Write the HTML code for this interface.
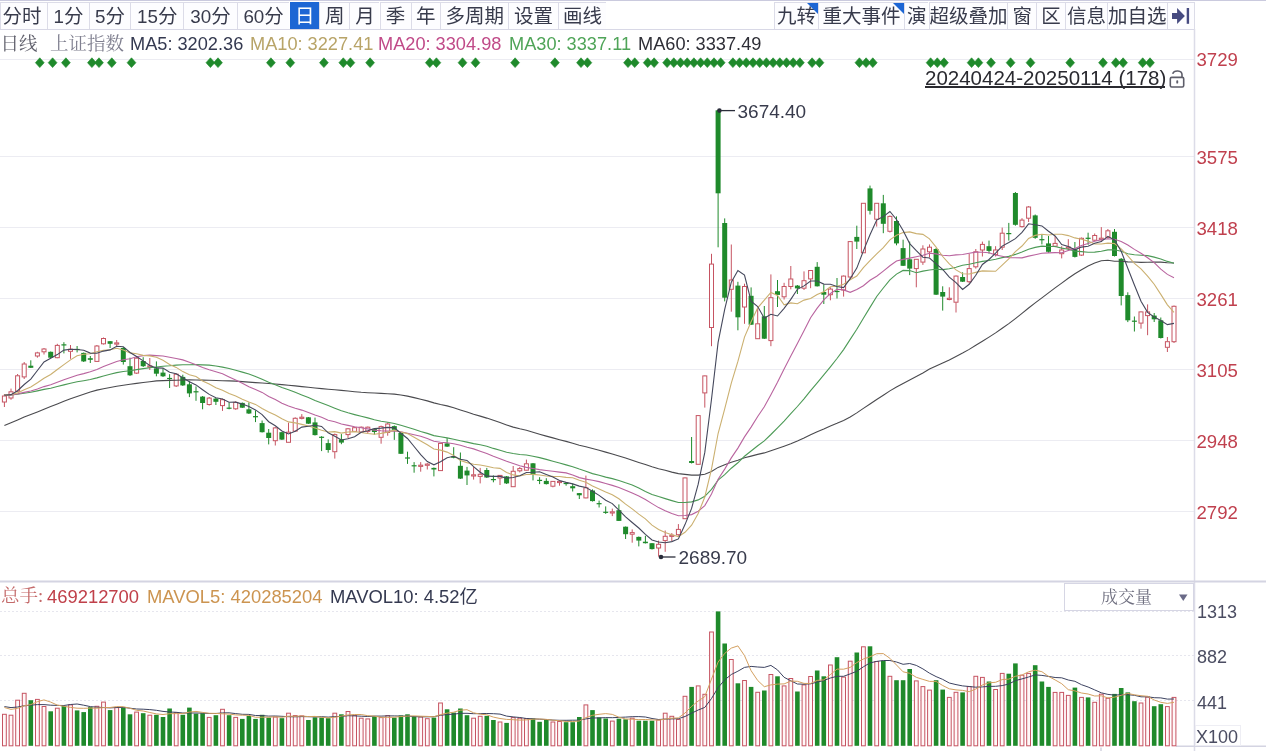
<!DOCTYPE html>
<html><head><meta charset="utf-8"><style>
*{margin:0;padding:0;box-sizing:border-box}
html,body{width:1266px;height:751px;overflow:hidden;background:#fff}
body{position:relative;filter:blur(0.35px);font-family:"Liberation Sans","Noto Sans CJK SC",sans-serif;color:#2f3345}
.topline{position:absolute;left:0;top:0;width:1266px;height:1.2px;background:#cacade}
.tbar{position:absolute;left:0;top:29px;width:1194px;height:1px;background:#d8d8e6}
.tab{position:absolute;top:1.5px;height:28.3px;border:1px solid #dcdce8;border-right:none;background:#fdfdff;font-size:19.5px;line-height:25.5px;padding-top:1.8px;text-align:center;white-space:nowrap;color:#383b4c;overflow:hidden}
.tab.sel{background:#1d66d4;color:#fff;border-color:#1d66d4}
.tri{position:absolute;right:0;top:0;width:0;height:0;border-top:11px solid #1d66d4;border-left:11px solid transparent}
.t{position:absolute;white-space:nowrap;line-height:1}
.serif{font-family:"Liberation Serif","Noto Serif CJK SC",serif}
svg.main{position:absolute;left:0;top:0}
.ax{position:absolute;left:1196.5px;font-size:18.6px;color:#c0404e;line-height:1}
.vax{position:absolute;left:1197px;font-size:18px;color:#4b4d62;line-height:1}
</style></head><body>
<div class="topline"></div>
<div class="tab" style="left:0px;width:47px;padding-right:4px;">分时</div>
<div class="tab" style="left:47px;width:42px;"><span style="font-size:18.8px">1</span>分</div>
<div class="tab" style="left:89px;width:41px;"><span style="font-size:18.8px">5</span>分</div>
<div class="tab" style="left:130px;width:53.400000000000006px;"><span style="font-size:18.8px">15</span>分</div>
<div class="tab" style="left:183.4px;width:53.29999999999998px;"><span style="font-size:18.8px">30</span>分</div>
<div class="tab" style="left:236.7px;width:52.80000000000001px;"><span style="font-size:18.8px">60</span>分</div>
<div class="tab sel" style="left:289.5px;width:29.600000000000023px;">日</div>
<div class="tab" style="left:319.1px;width:30.19999999999999px;">周</div>
<div class="tab" style="left:349.3px;width:30.19999999999999px;">月</div>
<div class="tab" style="left:379.5px;width:31.0px;">季</div>
<div class="tab" style="left:410.5px;width:29.600000000000023px;">年</div>
<div class="tab" style="left:440.1px;width:68.09999999999997px;">多周期</div>
<div class="tab" style="left:508.2px;width:49.400000000000034px;">设置</div>
<div class="tab" style="left:557.6px;width:48.799999999999955px;">画线</div>
<div class="tab" style="left:773.6px;width:44.69999999999993px;">九转<i class="tri"></i></div>
<div class="tab" style="left:818.3px;width:85.5px;">重大事件<i class="tri"></i></div>
<div class="tab" style="left:903.8px;width:24.700000000000045px;">演</div>
<div class="tab" style="left:928.5px;width:78.5px;">超级叠加</div>
<div class="tab" style="left:1007px;width:29.40000000000009px;">窗</div>
<div class="tab" style="left:1036.4px;width:28.399999999999864px;">区</div>
<div class="tab" style="left:1064.8px;width:42.200000000000045px;">信息</div>
<div class="tab" style="left:1107px;width:59.5px;">加自选</div>
<div class="tab" style="left:1166.5px;width:28.700000000000045px;border-right:1px solid #dcdce8;"><svg width="28" height="28" viewBox="0 0 28 28" style="position:absolute;left:-1px;top:-1px"><path d="M5,11 H10.1 V6 L17.9,14 L10.1,22 V17 H5Z" fill="#464a80"/><rect x="19.7" y="6" width="2.4" height="15.8" fill="#464a80"/></svg></div>
<div class="tbar"></div>
<svg class="main" width="1266" height="751" viewBox="0 0 1266 751">
<line x1="0" y1="59.5" x2="1194" y2="59.5" stroke="#ececf2" stroke-width="1"/>
<line x1="0" y1="156.5" x2="1194" y2="156.5" stroke="#ececf2" stroke-width="1"/>
<line x1="0" y1="227.5" x2="1194" y2="227.5" stroke="#ececf2" stroke-width="1"/>
<line x1="0" y1="298.5" x2="1194" y2="298.5" stroke="#ececf2" stroke-width="1"/>
<line x1="0" y1="369.5" x2="1194" y2="369.5" stroke="#ececf2" stroke-width="1"/>
<line x1="0" y1="440.5" x2="1194" y2="440.5" stroke="#ececf2" stroke-width="1"/>
<line x1="0" y1="511.5" x2="1194" y2="511.5" stroke="#ececf2" stroke-width="1"/>
<line x1="0" y1="611.5" x2="1194" y2="611.5" stroke="#e6e6ee" stroke-width="1" stroke-dasharray="2,2"/>
<line x1="0" y1="655.5" x2="1194" y2="655.5" stroke="#e6e6ee" stroke-width="1" stroke-dasharray="2,2"/>
<line x1="0" y1="700.5" x2="1194" y2="700.5" stroke="#e6e6ee" stroke-width="1" stroke-dasharray="2,2"/>
<line x1="1194.5" y1="29" x2="1194.5" y2="751" stroke="#dcdce8" stroke-width="1.5"/>
<line x1="0" y1="581.5" x2="1266" y2="581.5" stroke="#d4d4e2" stroke-width="2"/>
<line x1="1176" y1="746.3" x2="1266" y2="746.3" stroke="#d4d4e2" stroke-width="1.5"/>
<line x1="1101" y1="747.5" x2="1101" y2="751" stroke="#c8c8d8" stroke-width="1.2"/>
<line x1="4.4" y1="394.0" x2="4.4" y2="396.0" stroke="#c65462" stroke-width="1"/>
<line x1="4.4" y1="402.0" x2="4.4" y2="407.0" stroke="#c65462" stroke-width="1"/>
<rect x="2.4" y="396.0" width="4" height="6.0" fill="#fff" stroke="#c65462" stroke-width="1"/>
<line x1="11.0" y1="388.6" x2="11.0" y2="391.8" stroke="#c65462" stroke-width="1"/>
<line x1="11.0" y1="398.0" x2="11.0" y2="399.8" stroke="#c65462" stroke-width="1"/>
<rect x="9.0" y="391.8" width="4" height="6.2" fill="#fff" stroke="#c65462" stroke-width="1"/>
<line x1="17.6" y1="374.0" x2="17.6" y2="375.8" stroke="#c65462" stroke-width="1"/>
<line x1="17.6" y1="391.2" x2="17.6" y2="392.0" stroke="#c65462" stroke-width="1"/>
<rect x="15.6" y="375.8" width="4" height="15.4" fill="#fff" stroke="#c65462" stroke-width="1"/>
<line x1="24.2" y1="362.0" x2="24.2" y2="364.0" stroke="#c65462" stroke-width="1"/>
<line x1="24.2" y1="376.9" x2="24.2" y2="379.0" stroke="#c65462" stroke-width="1"/>
<rect x="22.2" y="364.0" width="4" height="12.9" fill="#fff" stroke="#c65462" stroke-width="1"/>
<line x1="30.8" y1="360.3" x2="30.8" y2="368.0" stroke="#1f8a2b" stroke-width="1"/>
<rect x="28.3" y="365.7" width="5" height="2.1" fill="#1f8a2b"/>
<line x1="37.4" y1="351.8" x2="37.4" y2="352.9" stroke="#c65462" stroke-width="1"/>
<line x1="37.4" y1="356.0" x2="37.4" y2="357.7" stroke="#c65462" stroke-width="1"/>
<rect x="35.4" y="352.9" width="4" height="3.1" fill="#fff" stroke="#c65462" stroke-width="1"/>
<line x1="44.0" y1="348.0" x2="44.0" y2="349.0" stroke="#c65462" stroke-width="1"/>
<line x1="44.0" y1="351.8" x2="44.0" y2="354.5" stroke="#c65462" stroke-width="1"/>
<rect x="42.0" y="349.0" width="4" height="2.8" fill="#fff" stroke="#c65462" stroke-width="1"/>
<line x1="50.7" y1="351.5" x2="50.7" y2="358.0" stroke="#1f8a2b" stroke-width="1"/>
<rect x="48.2" y="351.8" width="5" height="5.9" fill="#1f8a2b"/>
<line x1="57.3" y1="343.8" x2="57.3" y2="345.4" stroke="#c65462" stroke-width="1"/>
<line x1="57.3" y1="357.7" x2="57.3" y2="358.2" stroke="#c65462" stroke-width="1"/>
<rect x="55.3" y="345.4" width="4" height="12.3" fill="#fff" stroke="#c65462" stroke-width="1"/>
<line x1="63.9" y1="342.2" x2="63.9" y2="353.4" stroke="#1f8a2b" stroke-width="1"/>
<rect x="61.4" y="344.3" width="5" height="1.2" fill="#1f8a2b"/>
<line x1="70.5" y1="345.0" x2="70.5" y2="349.2" stroke="#c65462" stroke-width="1"/>
<line x1="70.5" y1="351.3" x2="70.5" y2="358.8" stroke="#c65462" stroke-width="1"/>
<rect x="68.5" y="349.2" width="4" height="2.1" fill="#fff" stroke="#c65462" stroke-width="1"/>
<line x1="77.1" y1="346.0" x2="77.1" y2="352.4" stroke="#1f8a2b" stroke-width="1"/>
<rect x="74.6" y="348.9" width="5" height="1.2" fill="#1f8a2b"/>
<line x1="83.7" y1="352.5" x2="83.7" y2="362.0" stroke="#1f8a2b" stroke-width="1"/>
<rect x="81.2" y="352.9" width="5" height="8.5" fill="#1f8a2b"/>
<line x1="90.3" y1="356.0" x2="90.3" y2="363.0" stroke="#1f8a2b" stroke-width="1"/>
<rect x="87.8" y="358.2" width="5" height="1.6" fill="#1f8a2b"/>
<line x1="96.9" y1="345.0" x2="96.9" y2="346.0" stroke="#c65462" stroke-width="1"/>
<line x1="96.9" y1="361.4" x2="96.9" y2="362.0" stroke="#c65462" stroke-width="1"/>
<rect x="94.9" y="346.0" width="4" height="15.4" fill="#fff" stroke="#c65462" stroke-width="1"/>
<line x1="103.5" y1="337.5" x2="103.5" y2="338.5" stroke="#c65462" stroke-width="1"/>
<line x1="103.5" y1="343.8" x2="103.5" y2="344.5" stroke="#c65462" stroke-width="1"/>
<rect x="101.5" y="338.5" width="4" height="5.3" fill="#fff" stroke="#c65462" stroke-width="1"/>
<line x1="110.1" y1="341.0" x2="110.1" y2="348.0" stroke="#1f8a2b" stroke-width="1"/>
<rect x="107.6" y="341.2" width="5" height="2.6" fill="#1f8a2b"/>
<line x1="116.7" y1="340.0" x2="116.7" y2="342.9" stroke="#c65462" stroke-width="1"/>
<line x1="116.7" y1="344.1" x2="116.7" y2="346.0" stroke="#c65462" stroke-width="1"/>
<rect x="114.7" y="342.9" width="4" height="1.2" fill="#fff" stroke="#c65462" stroke-width="1"/>
<line x1="123.3" y1="347.0" x2="123.3" y2="364.6" stroke="#1f8a2b" stroke-width="1"/>
<rect x="120.8" y="348.0" width="5" height="14.0" fill="#1f8a2b"/>
<line x1="130.0" y1="357.7" x2="130.0" y2="376.0" stroke="#1f8a2b" stroke-width="1"/>
<rect x="127.5" y="366.2" width="5" height="9.1" fill="#1f8a2b"/>
<line x1="136.6" y1="357.0" x2="136.6" y2="358.2" stroke="#c65462" stroke-width="1"/>
<line x1="136.6" y1="373.1" x2="136.6" y2="374.0" stroke="#c65462" stroke-width="1"/>
<rect x="134.6" y="358.2" width="4" height="14.9" fill="#fff" stroke="#c65462" stroke-width="1"/>
<line x1="143.2" y1="357.2" x2="143.2" y2="367.0" stroke="#1f8a2b" stroke-width="1"/>
<rect x="140.7" y="361.0" width="5" height="5.2" fill="#1f8a2b"/>
<line x1="149.8" y1="358.0" x2="149.8" y2="365.9" stroke="#c65462" stroke-width="1"/>
<line x1="149.8" y1="367.1" x2="149.8" y2="370.0" stroke="#c65462" stroke-width="1"/>
<rect x="147.8" y="365.9" width="4" height="1.2" fill="#fff" stroke="#c65462" stroke-width="1"/>
<line x1="156.4" y1="361.4" x2="156.4" y2="376.3" stroke="#1f8a2b" stroke-width="1"/>
<rect x="153.9" y="368.3" width="5" height="5.4" fill="#1f8a2b"/>
<line x1="163.0" y1="368.3" x2="163.0" y2="377.0" stroke="#1f8a2b" stroke-width="1"/>
<rect x="160.5" y="372.6" width="5" height="3.7" fill="#1f8a2b"/>
<line x1="169.6" y1="374.2" x2="169.6" y2="388.0" stroke="#1f8a2b" stroke-width="1"/>
<rect x="167.1" y="377.9" width="5" height="1.2" fill="#1f8a2b"/>
<line x1="176.2" y1="373.5" x2="176.2" y2="374.2" stroke="#c65462" stroke-width="1"/>
<line x1="176.2" y1="385.9" x2="176.2" y2="387.0" stroke="#c65462" stroke-width="1"/>
<rect x="174.2" y="374.2" width="4" height="11.7" fill="#fff" stroke="#c65462" stroke-width="1"/>
<line x1="182.8" y1="374.7" x2="182.8" y2="386.0" stroke="#1f8a2b" stroke-width="1"/>
<rect x="180.3" y="376.9" width="5" height="8.5" fill="#1f8a2b"/>
<line x1="189.4" y1="381.1" x2="189.4" y2="397.1" stroke="#1f8a2b" stroke-width="1"/>
<rect x="186.9" y="384.3" width="5" height="9.1" fill="#1f8a2b"/>
<line x1="196.0" y1="386.4" x2="196.0" y2="400.8" stroke="#1f8a2b" stroke-width="1"/>
<rect x="193.5" y="391.2" width="5" height="1.2" fill="#1f8a2b"/>
<line x1="202.6" y1="396.0" x2="202.6" y2="409.3" stroke="#1f8a2b" stroke-width="1"/>
<rect x="200.1" y="396.6" width="5" height="6.4" fill="#1f8a2b"/>
<line x1="209.2" y1="397.0" x2="209.2" y2="398.1" stroke="#c65462" stroke-width="1"/>
<line x1="209.2" y1="404.5" x2="209.2" y2="405.6" stroke="#c65462" stroke-width="1"/>
<rect x="207.2" y="398.1" width="4" height="6.4" fill="#fff" stroke="#c65462" stroke-width="1"/>
<line x1="215.9" y1="398.0" x2="215.9" y2="405.0" stroke="#1f8a2b" stroke-width="1"/>
<rect x="213.4" y="398.6" width="5" height="3.2" fill="#1f8a2b"/>
<line x1="222.5" y1="398.6" x2="222.5" y2="399.7" stroke="#c65462" stroke-width="1"/>
<line x1="222.5" y1="405.6" x2="222.5" y2="410.9" stroke="#c65462" stroke-width="1"/>
<rect x="220.5" y="399.7" width="4" height="5.9" fill="#fff" stroke="#c65462" stroke-width="1"/>
<line x1="229.1" y1="402.4" x2="229.1" y2="409.3" stroke="#1f8a2b" stroke-width="1"/>
<rect x="226.6" y="407.6" width="5" height="1.2" fill="#1f8a2b"/>
<line x1="235.7" y1="401.3" x2="235.7" y2="402.4" stroke="#c65462" stroke-width="1"/>
<line x1="235.7" y1="408.8" x2="235.7" y2="409.8" stroke="#c65462" stroke-width="1"/>
<rect x="233.7" y="402.4" width="4" height="6.4" fill="#fff" stroke="#c65462" stroke-width="1"/>
<line x1="242.3" y1="402.5" x2="242.3" y2="408.0" stroke="#1f8a2b" stroke-width="1"/>
<rect x="239.8" y="402.9" width="5" height="4.8" fill="#1f8a2b"/>
<line x1="248.9" y1="402.4" x2="248.9" y2="414.0" stroke="#1f8a2b" stroke-width="1"/>
<rect x="246.4" y="409.3" width="5" height="4.2" fill="#1f8a2b"/>
<line x1="255.5" y1="410.4" x2="255.5" y2="422.1" stroke="#1f8a2b" stroke-width="1"/>
<rect x="253.0" y="416.1" width="5" height="1.2" fill="#1f8a2b"/>
<line x1="262.1" y1="420.5" x2="262.1" y2="432.5" stroke="#1f8a2b" stroke-width="1"/>
<rect x="259.6" y="423.1" width="5" height="9.1" fill="#1f8a2b"/>
<line x1="268.7" y1="429.0" x2="268.7" y2="444.4" stroke="#1f8a2b" stroke-width="1"/>
<rect x="266.2" y="432.7" width="5" height="5.3" fill="#1f8a2b"/>
<line x1="275.3" y1="426.9" x2="275.3" y2="427.9" stroke="#c65462" stroke-width="1"/>
<line x1="275.3" y1="440.7" x2="275.3" y2="445.5" stroke="#c65462" stroke-width="1"/>
<rect x="273.3" y="427.9" width="4" height="12.8" fill="#fff" stroke="#c65462" stroke-width="1"/>
<line x1="281.9" y1="432.0" x2="281.9" y2="440.0" stroke="#1f8a2b" stroke-width="1"/>
<rect x="279.4" y="432.2" width="5" height="7.4" fill="#1f8a2b"/>
<line x1="288.5" y1="422.6" x2="288.5" y2="432.2" stroke="#c65462" stroke-width="1"/>
<line x1="288.5" y1="442.3" x2="288.5" y2="442.5" stroke="#c65462" stroke-width="1"/>
<rect x="286.5" y="432.2" width="4" height="10.1" fill="#fff" stroke="#c65462" stroke-width="1"/>
<line x1="295.2" y1="417.3" x2="295.2" y2="418.3" stroke="#c65462" stroke-width="1"/>
<line x1="295.2" y1="431.1" x2="295.2" y2="431.7" stroke="#c65462" stroke-width="1"/>
<rect x="293.2" y="418.3" width="4" height="12.8" fill="#fff" stroke="#c65462" stroke-width="1"/>
<line x1="301.8" y1="414.1" x2="301.8" y2="417.2" stroke="#c65462" stroke-width="1"/>
<line x1="301.8" y1="418.4" x2="301.8" y2="419.4" stroke="#c65462" stroke-width="1"/>
<rect x="299.8" y="417.2" width="4" height="1.2" fill="#fff" stroke="#c65462" stroke-width="1"/>
<line x1="308.4" y1="417.0" x2="308.4" y2="424.0" stroke="#1f8a2b" stroke-width="1"/>
<rect x="305.9" y="417.3" width="5" height="6.4" fill="#1f8a2b"/>
<line x1="315.0" y1="417.6" x2="315.0" y2="435.5" stroke="#1f8a2b" stroke-width="1"/>
<rect x="312.5" y="422.4" width="5" height="12.7" fill="#1f8a2b"/>
<line x1="321.6" y1="436.2" x2="321.6" y2="451.1" stroke="#1f8a2b" stroke-width="1"/>
<rect x="319.1" y="436.7" width="5" height="1.2" fill="#1f8a2b"/>
<line x1="328.2" y1="439.4" x2="328.2" y2="452.7" stroke="#1f8a2b" stroke-width="1"/>
<rect x="325.7" y="443.1" width="5" height="6.9" fill="#1f8a2b"/>
<line x1="334.8" y1="433.5" x2="334.8" y2="434.6" stroke="#c65462" stroke-width="1"/>
<line x1="334.8" y1="451.7" x2="334.8" y2="458.6" stroke="#c65462" stroke-width="1"/>
<rect x="332.8" y="434.6" width="4" height="17.1" fill="#fff" stroke="#c65462" stroke-width="1"/>
<line x1="341.4" y1="434.1" x2="341.4" y2="444.2" stroke="#1f8a2b" stroke-width="1"/>
<rect x="338.9" y="439.4" width="5" height="3.2" fill="#1f8a2b"/>
<line x1="348.0" y1="428.0" x2="348.0" y2="428.8" stroke="#c65462" stroke-width="1"/>
<line x1="348.0" y1="434.6" x2="348.0" y2="438.3" stroke="#c65462" stroke-width="1"/>
<rect x="346.0" y="428.8" width="4" height="5.8" fill="#fff" stroke="#c65462" stroke-width="1"/>
<line x1="354.6" y1="427.0" x2="354.6" y2="427.7" stroke="#c65462" stroke-width="1"/>
<line x1="354.6" y1="431.4" x2="354.6" y2="432.0" stroke="#c65462" stroke-width="1"/>
<rect x="352.6" y="427.7" width="4" height="3.7" fill="#fff" stroke="#c65462" stroke-width="1"/>
<line x1="361.2" y1="426.5" x2="361.2" y2="427.2" stroke="#c65462" stroke-width="1"/>
<line x1="361.2" y1="432.0" x2="361.2" y2="432.5" stroke="#c65462" stroke-width="1"/>
<rect x="359.2" y="427.2" width="4" height="4.8" fill="#fff" stroke="#c65462" stroke-width="1"/>
<line x1="367.8" y1="426.5" x2="367.8" y2="427.2" stroke="#c65462" stroke-width="1"/>
<line x1="367.8" y1="431.4" x2="367.8" y2="433.5" stroke="#c65462" stroke-width="1"/>
<rect x="365.8" y="427.2" width="4" height="4.2" fill="#fff" stroke="#c65462" stroke-width="1"/>
<line x1="374.4" y1="428.5" x2="374.4" y2="434.6" stroke="#1f8a2b" stroke-width="1"/>
<rect x="371.9" y="428.8" width="5" height="3.2" fill="#1f8a2b"/>
<line x1="381.1" y1="425.6" x2="381.1" y2="426.6" stroke="#c65462" stroke-width="1"/>
<line x1="381.1" y1="437.3" x2="381.1" y2="443.7" stroke="#c65462" stroke-width="1"/>
<rect x="379.1" y="426.6" width="4" height="10.7" fill="#fff" stroke="#c65462" stroke-width="1"/>
<line x1="387.7" y1="422.4" x2="387.7" y2="424.0" stroke="#c65462" stroke-width="1"/>
<line x1="387.7" y1="432.5" x2="387.7" y2="435.7" stroke="#c65462" stroke-width="1"/>
<rect x="385.7" y="424.0" width="4" height="8.5" fill="#fff" stroke="#c65462" stroke-width="1"/>
<line x1="394.3" y1="425.5" x2="394.3" y2="439.9" stroke="#1f8a2b" stroke-width="1"/>
<rect x="391.8" y="426.1" width="5" height="3.7" fill="#1f8a2b"/>
<line x1="400.9" y1="432.5" x2="400.9" y2="454.0" stroke="#1f8a2b" stroke-width="1"/>
<rect x="398.4" y="433.0" width="5" height="20.8" fill="#1f8a2b"/>
<line x1="407.5" y1="451.7" x2="407.5" y2="463.9" stroke="#1f8a2b" stroke-width="1"/>
<rect x="405.0" y="457.4" width="5" height="1.2" fill="#1f8a2b"/>
<line x1="414.1" y1="462.1" x2="414.1" y2="472.7" stroke="#1f8a2b" stroke-width="1"/>
<rect x="411.6" y="465.2" width="5" height="1.2" fill="#1f8a2b"/>
<line x1="420.7" y1="462.1" x2="420.7" y2="465.2" stroke="#c65462" stroke-width="1"/>
<line x1="420.7" y1="466.4" x2="420.7" y2="471.7" stroke="#c65462" stroke-width="1"/>
<rect x="418.7" y="465.2" width="4" height="1.2" fill="#fff" stroke="#c65462" stroke-width="1"/>
<line x1="427.3" y1="463.1" x2="427.3" y2="464.1" stroke="#c65462" stroke-width="1"/>
<line x1="427.3" y1="465.3" x2="427.3" y2="469.5" stroke="#c65462" stroke-width="1"/>
<rect x="425.3" y="464.1" width="4" height="1.2" fill="#fff" stroke="#c65462" stroke-width="1"/>
<line x1="433.9" y1="467.5" x2="433.9" y2="476.4" stroke="#1f8a2b" stroke-width="1"/>
<rect x="431.4" y="467.9" width="5" height="1.6" fill="#1f8a2b"/>
<line x1="440.5" y1="443.0" x2="440.5" y2="443.4" stroke="#c65462" stroke-width="1"/>
<line x1="440.5" y1="470.6" x2="440.5" y2="471.0" stroke="#c65462" stroke-width="1"/>
<rect x="438.5" y="443.4" width="4" height="27.2" fill="#fff" stroke="#c65462" stroke-width="1"/>
<line x1="447.1" y1="438.1" x2="447.1" y2="447.0" stroke="#1f8a2b" stroke-width="1"/>
<rect x="444.6" y="443.4" width="5" height="3.2" fill="#1f8a2b"/>
<line x1="453.7" y1="447.2" x2="453.7" y2="458.3" stroke="#1f8a2b" stroke-width="1"/>
<rect x="451.2" y="456.2" width="5" height="1.6" fill="#1f8a2b"/>
<line x1="460.4" y1="452.5" x2="460.4" y2="479.0" stroke="#1f8a2b" stroke-width="1"/>
<rect x="457.9" y="465.8" width="5" height="12.8" fill="#1f8a2b"/>
<line x1="467.0" y1="466.9" x2="467.0" y2="485.0" stroke="#1f8a2b" stroke-width="1"/>
<rect x="464.5" y="470.6" width="5" height="4.8" fill="#1f8a2b"/>
<line x1="473.6" y1="466.9" x2="473.6" y2="474.8" stroke="#c65462" stroke-width="1"/>
<line x1="473.6" y1="476.0" x2="473.6" y2="479.6" stroke="#c65462" stroke-width="1"/>
<rect x="471.6" y="474.8" width="4" height="1.2" fill="#fff" stroke="#c65462" stroke-width="1"/>
<line x1="480.2" y1="467.9" x2="480.2" y2="474.3" stroke="#c65462" stroke-width="1"/>
<line x1="480.2" y1="476.4" x2="480.2" y2="483.4" stroke="#c65462" stroke-width="1"/>
<rect x="478.2" y="474.3" width="4" height="2.1" fill="#fff" stroke="#c65462" stroke-width="1"/>
<line x1="486.8" y1="467.9" x2="486.8" y2="478.0" stroke="#1f8a2b" stroke-width="1"/>
<rect x="484.3" y="470.0" width="5" height="7.5" fill="#1f8a2b"/>
<line x1="493.4" y1="475.4" x2="493.4" y2="482.3" stroke="#1f8a2b" stroke-width="1"/>
<rect x="490.9" y="479.0" width="5" height="1.2" fill="#1f8a2b"/>
<line x1="500.0" y1="475.0" x2="500.0" y2="475.4" stroke="#c65462" stroke-width="1"/>
<line x1="500.0" y1="478.0" x2="500.0" y2="485.0" stroke="#c65462" stroke-width="1"/>
<rect x="498.0" y="475.4" width="4" height="2.6" fill="#fff" stroke="#c65462" stroke-width="1"/>
<line x1="506.6" y1="476.0" x2="506.6" y2="484.0" stroke="#1f8a2b" stroke-width="1"/>
<rect x="504.1" y="476.4" width="5" height="7.0" fill="#1f8a2b"/>
<line x1="513.2" y1="466.0" x2="513.2" y2="471.3" stroke="#c65462" stroke-width="1"/>
<line x1="513.2" y1="486.7" x2="513.2" y2="487.0" stroke="#c65462" stroke-width="1"/>
<rect x="511.2" y="471.3" width="4" height="15.4" fill="#fff" stroke="#c65462" stroke-width="1"/>
<line x1="519.8" y1="467.0" x2="519.8" y2="468.6" stroke="#c65462" stroke-width="1"/>
<line x1="519.8" y1="470.8" x2="519.8" y2="472.4" stroke="#c65462" stroke-width="1"/>
<rect x="517.8" y="468.6" width="4" height="2.2" fill="#fff" stroke="#c65462" stroke-width="1"/>
<line x1="526.4" y1="459.6" x2="526.4" y2="463.8" stroke="#c65462" stroke-width="1"/>
<line x1="526.4" y1="470.2" x2="526.4" y2="470.5" stroke="#c65462" stroke-width="1"/>
<rect x="524.4" y="463.8" width="4" height="6.4" fill="#fff" stroke="#c65462" stroke-width="1"/>
<line x1="533.0" y1="463.0" x2="533.0" y2="480.4" stroke="#1f8a2b" stroke-width="1"/>
<rect x="530.5" y="463.3" width="5" height="11.2" fill="#1f8a2b"/>
<line x1="539.6" y1="477.2" x2="539.6" y2="484.1" stroke="#1f8a2b" stroke-width="1"/>
<rect x="537.1" y="479.8" width="5" height="1.2" fill="#1f8a2b"/>
<line x1="546.3" y1="478.2" x2="546.3" y2="484.5" stroke="#1f8a2b" stroke-width="1"/>
<rect x="543.8" y="480.9" width="5" height="3.2" fill="#1f8a2b"/>
<line x1="552.9" y1="481.0" x2="552.9" y2="481.4" stroke="#c65462" stroke-width="1"/>
<line x1="552.9" y1="486.2" x2="552.9" y2="487.3" stroke="#c65462" stroke-width="1"/>
<rect x="550.9" y="481.4" width="4" height="4.8" fill="#fff" stroke="#c65462" stroke-width="1"/>
<line x1="559.5" y1="480.9" x2="559.5" y2="481.4" stroke="#c65462" stroke-width="1"/>
<line x1="559.5" y1="482.6" x2="559.5" y2="485.7" stroke="#c65462" stroke-width="1"/>
<rect x="557.5" y="481.4" width="4" height="1.2" fill="#fff" stroke="#c65462" stroke-width="1"/>
<line x1="566.1" y1="482.5" x2="566.1" y2="485.7" stroke="#1f8a2b" stroke-width="1"/>
<rect x="563.6" y="482.9" width="5" height="1.2" fill="#1f8a2b"/>
<line x1="572.7" y1="483.5" x2="572.7" y2="491.5" stroke="#1f8a2b" stroke-width="1"/>
<rect x="570.2" y="486.2" width="5" height="2.1" fill="#1f8a2b"/>
<line x1="579.3" y1="493.0" x2="579.3" y2="499.0" stroke="#1f8a2b" stroke-width="1"/>
<rect x="576.8" y="493.1" width="5" height="2.2" fill="#1f8a2b"/>
<line x1="585.9" y1="475.6" x2="585.9" y2="487.8" stroke="#c65462" stroke-width="1"/>
<line x1="585.9" y1="497.9" x2="585.9" y2="498.3" stroke="#c65462" stroke-width="1"/>
<rect x="583.9" y="487.8" width="4" height="10.1" fill="#fff" stroke="#c65462" stroke-width="1"/>
<line x1="592.5" y1="489.4" x2="592.5" y2="501.5" stroke="#1f8a2b" stroke-width="1"/>
<rect x="590.0" y="490.5" width="5" height="10.6" fill="#1f8a2b"/>
<line x1="599.1" y1="500.6" x2="599.1" y2="507.5" stroke="#1f8a2b" stroke-width="1"/>
<rect x="596.6" y="503.1" width="5" height="1.2" fill="#1f8a2b"/>
<line x1="605.7" y1="506.4" x2="605.7" y2="513.9" stroke="#1f8a2b" stroke-width="1"/>
<rect x="603.2" y="511.7" width="5" height="1.2" fill="#1f8a2b"/>
<line x1="612.3" y1="508.6" x2="612.3" y2="511.8" stroke="#c65462" stroke-width="1"/>
<line x1="612.3" y1="513.0" x2="612.3" y2="516.1" stroke="#c65462" stroke-width="1"/>
<rect x="610.3" y="511.8" width="4" height="1.2" fill="#fff" stroke="#c65462" stroke-width="1"/>
<line x1="618.9" y1="504.4" x2="618.9" y2="521.0" stroke="#1f8a2b" stroke-width="1"/>
<rect x="616.4" y="510.2" width="5" height="10.7" fill="#1f8a2b"/>
<line x1="625.6" y1="526.5" x2="625.6" y2="539.0" stroke="#1f8a2b" stroke-width="1"/>
<rect x="623.1" y="526.7" width="5" height="7.5" fill="#1f8a2b"/>
<line x1="632.2" y1="529.4" x2="632.2" y2="532.6" stroke="#c65462" stroke-width="1"/>
<line x1="632.2" y1="534.2" x2="632.2" y2="542.7" stroke="#c65462" stroke-width="1"/>
<rect x="630.2" y="532.6" width="4" height="1.6" fill="#fff" stroke="#c65462" stroke-width="1"/>
<line x1="638.8" y1="536.5" x2="638.8" y2="546.4" stroke="#1f8a2b" stroke-width="1"/>
<rect x="636.3" y="536.9" width="5" height="3.7" fill="#1f8a2b"/>
<line x1="645.4" y1="535.8" x2="645.4" y2="543.5" stroke="#1f8a2b" stroke-width="1"/>
<rect x="642.9" y="541.7" width="5" height="1.5" fill="#1f8a2b"/>
<line x1="652.0" y1="543.0" x2="652.0" y2="549.5" stroke="#1f8a2b" stroke-width="1"/>
<rect x="649.5" y="543.2" width="5" height="5.9" fill="#1f8a2b"/>
<line x1="658.6" y1="540.6" x2="658.6" y2="544.3" stroke="#c65462" stroke-width="1"/>
<line x1="658.6" y1="548.0" x2="658.6" y2="556.6" stroke="#c65462" stroke-width="1"/>
<rect x="656.6" y="544.3" width="4" height="3.7" fill="#fff" stroke="#c65462" stroke-width="1"/>
<line x1="665.2" y1="530.5" x2="665.2" y2="536.3" stroke="#c65462" stroke-width="1"/>
<line x1="665.2" y1="540.6" x2="665.2" y2="551.8" stroke="#c65462" stroke-width="1"/>
<rect x="663.2" y="536.3" width="4" height="4.3" fill="#fff" stroke="#c65462" stroke-width="1"/>
<line x1="671.8" y1="533.1" x2="671.8" y2="535.2" stroke="#c65462" stroke-width="1"/>
<line x1="671.8" y1="536.4" x2="671.8" y2="541.1" stroke="#c65462" stroke-width="1"/>
<rect x="669.8" y="535.2" width="4" height="1.2" fill="#fff" stroke="#c65462" stroke-width="1"/>
<line x1="678.4" y1="524.1" x2="678.4" y2="529.4" stroke="#c65462" stroke-width="1"/>
<line x1="678.4" y1="534.7" x2="678.4" y2="535.8" stroke="#c65462" stroke-width="1"/>
<rect x="676.4" y="529.4" width="4" height="5.3" fill="#fff" stroke="#c65462" stroke-width="1"/>
<line x1="685.0" y1="477.5" x2="685.0" y2="477.9" stroke="#c65462" stroke-width="1"/>
<line x1="685.0" y1="518.7" x2="685.0" y2="519.0" stroke="#c65462" stroke-width="1"/>
<rect x="683.0" y="477.9" width="4" height="40.8" fill="#fff" stroke="#c65462" stroke-width="1"/>
<line x1="691.6" y1="437.0" x2="691.6" y2="463.5" stroke="#1f8a2b" stroke-width="1"/>
<rect x="689.1" y="461.0" width="5" height="2.0" fill="#1f8a2b"/>
<line x1="698.2" y1="415.0" x2="698.2" y2="415.6" stroke="#c65462" stroke-width="1"/>
<line x1="698.2" y1="464.3" x2="698.2" y2="464.5" stroke="#c65462" stroke-width="1"/>
<rect x="696.2" y="415.6" width="4" height="48.7" fill="#fff" stroke="#c65462" stroke-width="1"/>
<line x1="704.8" y1="375.5" x2="704.8" y2="375.9" stroke="#c65462" stroke-width="1"/>
<line x1="704.8" y1="392.9" x2="704.8" y2="407.6" stroke="#c65462" stroke-width="1"/>
<rect x="702.8" y="375.9" width="4" height="17.0" fill="#fff" stroke="#c65462" stroke-width="1"/>
<line x1="711.5" y1="253.8" x2="711.5" y2="264.1" stroke="#c65462" stroke-width="1"/>
<line x1="711.5" y1="327.5" x2="711.5" y2="346.2" stroke="#c65462" stroke-width="1"/>
<rect x="709.5" y="264.1" width="4" height="63.4" fill="#fff" stroke="#c65462" stroke-width="1"/>
<line x1="718.1" y1="110.0" x2="718.1" y2="247.3" stroke="#1f8a2b" stroke-width="1"/>
<rect x="715.6" y="110.3" width="5" height="83.0" fill="#1f8a2b"/>
<line x1="724.7" y1="218.4" x2="724.7" y2="301.4" stroke="#1f8a2b" stroke-width="1"/>
<rect x="722.2" y="223.0" width="5" height="74.7" fill="#1f8a2b"/>
<line x1="731.3" y1="244.5" x2="731.3" y2="280.0" stroke="#c65462" stroke-width="1"/>
<line x1="731.3" y1="289.3" x2="731.3" y2="311.7" stroke="#c65462" stroke-width="1"/>
<rect x="729.3" y="280.0" width="4" height="9.3" fill="#fff" stroke="#c65462" stroke-width="1"/>
<line x1="737.9" y1="281.8" x2="737.9" y2="330.3" stroke="#1f8a2b" stroke-width="1"/>
<rect x="735.4" y="285.6" width="5" height="31.7" fill="#1f8a2b"/>
<line x1="744.5" y1="283.7" x2="744.5" y2="286.5" stroke="#c65462" stroke-width="1"/>
<line x1="744.5" y1="307.0" x2="744.5" y2="323.8" stroke="#c65462" stroke-width="1"/>
<rect x="742.5" y="286.5" width="4" height="20.5" fill="#fff" stroke="#c65462" stroke-width="1"/>
<line x1="751.1" y1="287.4" x2="751.1" y2="325.0" stroke="#1f8a2b" stroke-width="1"/>
<rect x="748.6" y="295.8" width="5" height="28.9" fill="#1f8a2b"/>
<line x1="757.7" y1="308.9" x2="757.7" y2="323.8" stroke="#c65462" stroke-width="1"/>
<line x1="757.7" y1="338.7" x2="757.7" y2="339.0" stroke="#c65462" stroke-width="1"/>
<rect x="755.7" y="323.8" width="4" height="14.9" fill="#fff" stroke="#c65462" stroke-width="1"/>
<line x1="764.3" y1="306.0" x2="764.3" y2="339.0" stroke="#1f8a2b" stroke-width="1"/>
<rect x="761.8" y="316.3" width="5" height="22.4" fill="#1f8a2b"/>
<line x1="770.9" y1="274.4" x2="770.9" y2="297.7" stroke="#c65462" stroke-width="1"/>
<line x1="770.9" y1="340.6" x2="770.9" y2="346.2" stroke="#c65462" stroke-width="1"/>
<rect x="768.9" y="297.7" width="4" height="42.9" fill="#fff" stroke="#c65462" stroke-width="1"/>
<line x1="777.5" y1="280.0" x2="777.5" y2="307.0" stroke="#1f8a2b" stroke-width="1"/>
<rect x="775.0" y="291.2" width="5" height="3.7" fill="#1f8a2b"/>
<line x1="784.1" y1="282.8" x2="784.1" y2="286.5" stroke="#c65462" stroke-width="1"/>
<line x1="784.1" y1="296.8" x2="784.1" y2="299.6" stroke="#c65462" stroke-width="1"/>
<rect x="782.1" y="286.5" width="4" height="10.3" fill="#fff" stroke="#c65462" stroke-width="1"/>
<line x1="790.8" y1="266.0" x2="790.8" y2="279.0" stroke="#c65462" stroke-width="1"/>
<line x1="790.8" y1="286.5" x2="790.8" y2="289.3" stroke="#c65462" stroke-width="1"/>
<rect x="788.8" y="279.0" width="4" height="7.5" fill="#fff" stroke="#c65462" stroke-width="1"/>
<line x1="797.4" y1="285.0" x2="797.4" y2="294.0" stroke="#1f8a2b" stroke-width="1"/>
<rect x="794.9" y="285.6" width="5" height="2.8" fill="#1f8a2b"/>
<line x1="804.0" y1="271.4" x2="804.0" y2="280.7" stroke="#c65462" stroke-width="1"/>
<line x1="804.0" y1="288.2" x2="804.0" y2="290.0" stroke="#c65462" stroke-width="1"/>
<rect x="802.0" y="280.7" width="4" height="7.5" fill="#fff" stroke="#c65462" stroke-width="1"/>
<line x1="810.6" y1="270.0" x2="810.6" y2="270.5" stroke="#c65462" stroke-width="1"/>
<line x1="810.6" y1="278.9" x2="810.6" y2="288.2" stroke="#c65462" stroke-width="1"/>
<rect x="808.6" y="270.5" width="4" height="8.4" fill="#fff" stroke="#c65462" stroke-width="1"/>
<line x1="817.2" y1="262.1" x2="817.2" y2="286.5" stroke="#1f8a2b" stroke-width="1"/>
<rect x="814.7" y="266.8" width="5" height="19.5" fill="#1f8a2b"/>
<line x1="823.8" y1="284.5" x2="823.8" y2="304.0" stroke="#1f8a2b" stroke-width="1"/>
<rect x="821.3" y="292.0" width="5" height="2.7" fill="#1f8a2b"/>
<line x1="830.4" y1="287.3" x2="830.4" y2="289.1" stroke="#c65462" stroke-width="1"/>
<line x1="830.4" y1="294.7" x2="830.4" y2="300.3" stroke="#c65462" stroke-width="1"/>
<rect x="828.4" y="289.1" width="4" height="5.6" fill="#fff" stroke="#c65462" stroke-width="1"/>
<line x1="837.0" y1="278.0" x2="837.0" y2="298.5" stroke="#1f8a2b" stroke-width="1"/>
<rect x="834.5" y="290.9" width="5" height="1.2" fill="#1f8a2b"/>
<line x1="843.6" y1="275.5" x2="843.6" y2="276.1" stroke="#c65462" stroke-width="1"/>
<line x1="843.6" y1="290.0" x2="843.6" y2="296.6" stroke="#c65462" stroke-width="1"/>
<rect x="841.6" y="276.1" width="4" height="13.9" fill="#fff" stroke="#c65462" stroke-width="1"/>
<line x1="850.2" y1="241.0" x2="850.2" y2="241.6" stroke="#c65462" stroke-width="1"/>
<line x1="850.2" y1="277.0" x2="850.2" y2="278.9" stroke="#c65462" stroke-width="1"/>
<rect x="848.2" y="241.6" width="4" height="35.4" fill="#fff" stroke="#c65462" stroke-width="1"/>
<line x1="856.8" y1="225.7" x2="856.8" y2="249.0" stroke="#1f8a2b" stroke-width="1"/>
<rect x="854.3" y="236.9" width="5" height="4.7" fill="#1f8a2b"/>
<line x1="863.4" y1="203.0" x2="863.4" y2="203.3" stroke="#c65462" stroke-width="1"/>
<line x1="863.4" y1="252.8" x2="863.4" y2="253.0" stroke="#c65462" stroke-width="1"/>
<rect x="861.4" y="203.3" width="4" height="49.5" fill="#fff" stroke="#c65462" stroke-width="1"/>
<line x1="870.0" y1="185.6" x2="870.0" y2="214.5" stroke="#1f8a2b" stroke-width="1"/>
<rect x="867.5" y="188.4" width="5" height="22.4" fill="#1f8a2b"/>
<line x1="876.7" y1="203.0" x2="876.7" y2="203.3" stroke="#c65462" stroke-width="1"/>
<line x1="876.7" y1="219.2" x2="876.7" y2="226.6" stroke="#c65462" stroke-width="1"/>
<rect x="874.7" y="203.3" width="4" height="15.9" fill="#fff" stroke="#c65462" stroke-width="1"/>
<line x1="883.3" y1="194.9" x2="883.3" y2="233.2" stroke="#1f8a2b" stroke-width="1"/>
<rect x="880.8" y="203.3" width="5" height="20.5" fill="#1f8a2b"/>
<line x1="889.9" y1="215.5" x2="889.9" y2="216.4" stroke="#c65462" stroke-width="1"/>
<line x1="889.9" y1="231.3" x2="889.9" y2="232.5" stroke="#c65462" stroke-width="1"/>
<rect x="887.9" y="216.4" width="4" height="14.9" fill="#fff" stroke="#c65462" stroke-width="1"/>
<line x1="896.5" y1="216.4" x2="896.5" y2="245.3" stroke="#1f8a2b" stroke-width="1"/>
<rect x="894.0" y="221.0" width="5" height="22.4" fill="#1f8a2b"/>
<line x1="903.1" y1="239.7" x2="903.1" y2="266.0" stroke="#1f8a2b" stroke-width="1"/>
<rect x="900.6" y="248.1" width="5" height="17.7" fill="#1f8a2b"/>
<line x1="909.7" y1="241.6" x2="909.7" y2="275.1" stroke="#1f8a2b" stroke-width="1"/>
<rect x="907.2" y="259.3" width="5" height="9.3" fill="#1f8a2b"/>
<line x1="916.3" y1="259.0" x2="916.3" y2="259.3" stroke="#c65462" stroke-width="1"/>
<line x1="916.3" y1="268.6" x2="916.3" y2="287.3" stroke="#c65462" stroke-width="1"/>
<rect x="914.3" y="259.3" width="4" height="9.3" fill="#fff" stroke="#c65462" stroke-width="1"/>
<line x1="922.9" y1="245.3" x2="922.9" y2="249.0" stroke="#c65462" stroke-width="1"/>
<line x1="922.9" y1="262.1" x2="922.9" y2="264.9" stroke="#c65462" stroke-width="1"/>
<rect x="920.9" y="249.0" width="4" height="13.1" fill="#fff" stroke="#c65462" stroke-width="1"/>
<line x1="929.5" y1="244.4" x2="929.5" y2="247.2" stroke="#c65462" stroke-width="1"/>
<line x1="929.5" y1="251.8" x2="929.5" y2="257.4" stroke="#c65462" stroke-width="1"/>
<rect x="927.5" y="247.2" width="4" height="4.6" fill="#fff" stroke="#c65462" stroke-width="1"/>
<line x1="936.1" y1="248.0" x2="936.1" y2="295.0" stroke="#1f8a2b" stroke-width="1"/>
<rect x="933.6" y="249.0" width="5" height="45.7" fill="#1f8a2b"/>
<line x1="942.7" y1="286.3" x2="942.7" y2="310.6" stroke="#1f8a2b" stroke-width="1"/>
<rect x="940.2" y="292.0" width="5" height="4.6" fill="#1f8a2b"/>
<line x1="949.3" y1="287.3" x2="949.3" y2="298.3" stroke="#c65462" stroke-width="1"/>
<line x1="949.3" y1="299.6" x2="949.3" y2="300.3" stroke="#c65462" stroke-width="1"/>
<rect x="947.3" y="298.3" width="4" height="1.2" fill="#fff" stroke="#c65462" stroke-width="1"/>
<line x1="956.0" y1="275.5" x2="956.0" y2="276.1" stroke="#c65462" stroke-width="1"/>
<line x1="956.0" y1="302.2" x2="956.0" y2="312.5" stroke="#c65462" stroke-width="1"/>
<rect x="954.0" y="276.1" width="4" height="26.1" fill="#fff" stroke="#c65462" stroke-width="1"/>
<line x1="962.6" y1="272.3" x2="962.6" y2="282.0" stroke="#1f8a2b" stroke-width="1"/>
<rect x="960.1" y="277.0" width="5" height="4.7" fill="#1f8a2b"/>
<line x1="969.2" y1="253.7" x2="969.2" y2="268.6" stroke="#c65462" stroke-width="1"/>
<line x1="969.2" y1="281.7" x2="969.2" y2="283.5" stroke="#c65462" stroke-width="1"/>
<rect x="967.2" y="268.6" width="4" height="13.1" fill="#fff" stroke="#c65462" stroke-width="1"/>
<line x1="975.8" y1="249.0" x2="975.8" y2="251.8" stroke="#c65462" stroke-width="1"/>
<line x1="975.8" y1="266.8" x2="975.8" y2="268.6" stroke="#c65462" stroke-width="1"/>
<rect x="973.8" y="251.8" width="4" height="15.0" fill="#fff" stroke="#c65462" stroke-width="1"/>
<line x1="982.4" y1="241.6" x2="982.4" y2="244.4" stroke="#c65462" stroke-width="1"/>
<line x1="982.4" y1="250.0" x2="982.4" y2="256.5" stroke="#c65462" stroke-width="1"/>
<rect x="980.4" y="244.4" width="4" height="5.6" fill="#fff" stroke="#c65462" stroke-width="1"/>
<line x1="989.0" y1="240.6" x2="989.0" y2="253.7" stroke="#1f8a2b" stroke-width="1"/>
<rect x="986.5" y="246.2" width="5" height="4.7" fill="#1f8a2b"/>
<line x1="995.6" y1="246.2" x2="995.6" y2="250.0" stroke="#c65462" stroke-width="1"/>
<line x1="995.6" y1="254.6" x2="995.6" y2="256.5" stroke="#c65462" stroke-width="1"/>
<rect x="993.6" y="250.0" width="4" height="4.6" fill="#fff" stroke="#c65462" stroke-width="1"/>
<line x1="1002.2" y1="227.6" x2="1002.2" y2="233.2" stroke="#c65462" stroke-width="1"/>
<line x1="1002.2" y1="247.2" x2="1002.2" y2="250.0" stroke="#c65462" stroke-width="1"/>
<rect x="1000.2" y="233.2" width="4" height="14.0" fill="#fff" stroke="#c65462" stroke-width="1"/>
<line x1="1008.8" y1="222.9" x2="1008.8" y2="240.6" stroke="#1f8a2b" stroke-width="1"/>
<rect x="1006.3" y="233.0" width="5" height="1.2" fill="#1f8a2b"/>
<line x1="1015.4" y1="192.0" x2="1015.4" y2="225.7" stroke="#1f8a2b" stroke-width="1"/>
<rect x="1012.9" y="193.0" width="5" height="31.8" fill="#1f8a2b"/>
<line x1="1022.0" y1="218.2" x2="1022.0" y2="220.1" stroke="#c65462" stroke-width="1"/>
<line x1="1022.0" y1="226.6" x2="1022.0" y2="227.6" stroke="#c65462" stroke-width="1"/>
<rect x="1020.0" y="220.1" width="4" height="6.5" fill="#fff" stroke="#c65462" stroke-width="1"/>
<line x1="1028.6" y1="206.1" x2="1028.6" y2="207.0" stroke="#c65462" stroke-width="1"/>
<line x1="1028.6" y1="218.2" x2="1028.6" y2="222.0" stroke="#c65462" stroke-width="1"/>
<rect x="1026.6" y="207.0" width="4" height="11.2" fill="#fff" stroke="#c65462" stroke-width="1"/>
<line x1="1035.2" y1="214.5" x2="1035.2" y2="238.8" stroke="#1f8a2b" stroke-width="1"/>
<rect x="1032.7" y="215.4" width="5" height="22.4" fill="#1f8a2b"/>
<line x1="1041.9" y1="235.0" x2="1041.9" y2="244.4" stroke="#1f8a2b" stroke-width="1"/>
<rect x="1039.4" y="239.1" width="5" height="1.2" fill="#1f8a2b"/>
<line x1="1048.5" y1="236.0" x2="1048.5" y2="252.8" stroke="#1f8a2b" stroke-width="1"/>
<rect x="1046.0" y="243.4" width="5" height="8.4" fill="#1f8a2b"/>
<line x1="1055.1" y1="236.0" x2="1055.1" y2="243.4" stroke="#c65462" stroke-width="1"/>
<line x1="1055.1" y1="246.2" x2="1055.1" y2="247.2" stroke="#c65462" stroke-width="1"/>
<rect x="1053.1" y="243.4" width="4" height="2.8" fill="#fff" stroke="#c65462" stroke-width="1"/>
<line x1="1061.7" y1="246.2" x2="1061.7" y2="250.0" stroke="#c65462" stroke-width="1"/>
<line x1="1061.7" y1="253.7" x2="1061.7" y2="258.4" stroke="#c65462" stroke-width="1"/>
<rect x="1059.7" y="250.0" width="4" height="3.7" fill="#fff" stroke="#c65462" stroke-width="1"/>
<line x1="1068.3" y1="239.2" x2="1068.3" y2="247.0" stroke="#c65462" stroke-width="1"/>
<line x1="1068.3" y1="248.2" x2="1068.3" y2="250.4" stroke="#c65462" stroke-width="1"/>
<rect x="1066.3" y="247.0" width="4" height="1.2" fill="#fff" stroke="#c65462" stroke-width="1"/>
<line x1="1074.9" y1="242.0" x2="1074.9" y2="257.5" stroke="#1f8a2b" stroke-width="1"/>
<rect x="1072.4" y="249.5" width="5" height="7.4" fill="#1f8a2b"/>
<line x1="1081.5" y1="237.5" x2="1081.5" y2="238.3" stroke="#c65462" stroke-width="1"/>
<line x1="1081.5" y1="255.1" x2="1081.5" y2="256.0" stroke="#c65462" stroke-width="1"/>
<rect x="1079.5" y="238.3" width="4" height="16.8" fill="#fff" stroke="#c65462" stroke-width="1"/>
<line x1="1088.1" y1="232.7" x2="1088.1" y2="244.8" stroke="#1f8a2b" stroke-width="1"/>
<rect x="1085.6" y="237.7" width="5" height="1.2" fill="#1f8a2b"/>
<line x1="1094.7" y1="233.5" x2="1094.7" y2="235.5" stroke="#c65462" stroke-width="1"/>
<line x1="1094.7" y1="240.2" x2="1094.7" y2="241.0" stroke="#c65462" stroke-width="1"/>
<rect x="1092.7" y="235.5" width="4" height="4.7" fill="#fff" stroke="#c65462" stroke-width="1"/>
<line x1="1101.3" y1="227.1" x2="1101.3" y2="238.2" stroke="#c65462" stroke-width="1"/>
<line x1="1101.3" y1="239.3" x2="1101.3" y2="242.0" stroke="#c65462" stroke-width="1"/>
<rect x="1099.3" y="238.2" width="4" height="1.2" fill="#fff" stroke="#c65462" stroke-width="1"/>
<line x1="1107.9" y1="229.0" x2="1107.9" y2="230.8" stroke="#c65462" stroke-width="1"/>
<line x1="1107.9" y1="237.4" x2="1107.9" y2="238.3" stroke="#c65462" stroke-width="1"/>
<rect x="1105.9" y="230.8" width="4" height="6.6" fill="#fff" stroke="#c65462" stroke-width="1"/>
<line x1="1114.5" y1="229.0" x2="1114.5" y2="256.5" stroke="#1f8a2b" stroke-width="1"/>
<rect x="1112.0" y="231.8" width="5" height="24.2" fill="#1f8a2b"/>
<line x1="1121.2" y1="258.0" x2="1121.2" y2="305.4" stroke="#1f8a2b" stroke-width="1"/>
<rect x="1118.7" y="258.8" width="5" height="37.2" fill="#1f8a2b"/>
<line x1="1127.8" y1="292.3" x2="1127.8" y2="322.1" stroke="#1f8a2b" stroke-width="1"/>
<rect x="1125.3" y="295.1" width="5" height="25.2" fill="#1f8a2b"/>
<line x1="1134.4" y1="316.5" x2="1134.4" y2="331.5" stroke="#1f8a2b" stroke-width="1"/>
<rect x="1131.9" y="320.6" width="5" height="1.2" fill="#1f8a2b"/>
<line x1="1141.0" y1="311.5" x2="1141.0" y2="311.9" stroke="#c65462" stroke-width="1"/>
<line x1="1141.0" y1="323.1" x2="1141.0" y2="328.7" stroke="#c65462" stroke-width="1"/>
<rect x="1139.0" y="311.9" width="4" height="11.2" fill="#fff" stroke="#c65462" stroke-width="1"/>
<line x1="1147.6" y1="304.4" x2="1147.6" y2="311.9" stroke="#c65462" stroke-width="1"/>
<line x1="1147.6" y1="315.6" x2="1147.6" y2="335.2" stroke="#c65462" stroke-width="1"/>
<rect x="1145.6" y="311.9" width="4" height="3.7" fill="#fff" stroke="#c65462" stroke-width="1"/>
<line x1="1154.2" y1="313.0" x2="1154.2" y2="322.0" stroke="#1f8a2b" stroke-width="1"/>
<rect x="1151.7" y="315.6" width="5" height="3.7" fill="#1f8a2b"/>
<line x1="1160.8" y1="317.5" x2="1160.8" y2="338.5" stroke="#1f8a2b" stroke-width="1"/>
<rect x="1158.3" y="320.3" width="5" height="17.7" fill="#1f8a2b"/>
<line x1="1167.4" y1="337.0" x2="1167.4" y2="341.7" stroke="#c65462" stroke-width="1"/>
<line x1="1167.4" y1="347.3" x2="1167.4" y2="352.0" stroke="#c65462" stroke-width="1"/>
<rect x="1165.4" y="341.7" width="4" height="5.6" fill="#fff" stroke="#c65462" stroke-width="1"/>
<line x1="1174.0" y1="305.5" x2="1174.0" y2="306.3" stroke="#c65462" stroke-width="1"/>
<line x1="1174.0" y1="341.7" x2="1174.0" y2="343.0" stroke="#c65462" stroke-width="1"/>
<rect x="1172.0" y="306.3" width="4" height="35.4" fill="#fff" stroke="#c65462" stroke-width="1"/>
<polyline points="4.4,425.6 11.0,422.8 17.6,419.9 24.2,417.1 30.8,414.5 37.4,411.9 44.0,409.2 50.7,406.6 57.3,403.9 63.9,401.3 70.5,398.7 77.1,396.4 83.7,394.2 90.3,392.0 96.9,390.1 103.5,388.8 110.1,387.5 116.7,386.2 123.3,385.2 130.0,384.3 136.6,383.4 143.2,382.5 149.8,381.7 156.4,380.9 163.0,380.6 169.6,380.4 176.2,380.2 182.8,380.0 189.4,379.8 196.0,380.0 202.6,380.1 209.2,380.3 215.9,380.5 222.5,380.7 229.1,380.9 235.7,381.1 242.3,381.6 248.9,382.1 255.5,382.6 262.1,383.0 268.7,383.5 275.3,384.0 281.9,384.6 288.5,385.3 295.2,385.9 301.8,386.6 308.4,387.3 315.0,388.0 321.6,388.6 328.2,389.2 334.8,389.8 341.4,390.4 348.0,391.0 354.6,391.7 361.2,392.3 367.8,392.7 374.4,393.0 381.1,393.4 387.7,393.7 394.3,394.1 400.9,395.0 407.5,396.1 414.1,397.6 420.7,399.3 427.3,400.9 433.9,402.9 440.5,404.5 447.1,405.9 453.7,407.8 460.4,410.0 467.0,412.1 473.6,414.2 480.2,416.1 486.8,418.1 493.4,420.3 500.0,422.6 506.6,424.9 513.2,427.1 519.8,428.8 526.4,430.3 533.0,432.2 539.6,434.2 546.3,436.1 552.9,437.9 559.5,439.7 566.1,441.4 572.7,443.3 579.3,445.2 585.9,446.7 592.5,448.5 599.1,450.2 605.7,452.1 612.3,454.0 618.9,456.0 625.6,458.1 632.2,460.3 638.8,462.5 645.4,464.6 652.0,466.8 658.6,468.7 665.2,470.3 671.8,472.1 678.4,473.6 685.0,474.4 691.6,475.1 698.2,475.1 704.8,474.3 711.5,471.5 718.1,467.4 724.7,464.8 731.3,462.3 737.9,460.2 744.5,457.8 751.1,456.1 757.7,454.4 764.3,452.9 770.9,450.7 777.5,448.5 784.1,446.2 790.8,443.7 797.4,440.9 804.0,437.9 810.6,434.7 817.2,431.7 823.8,428.9 830.4,425.9 837.0,423.3 843.6,420.5 850.2,416.9 856.8,412.9 863.4,408.4 870.0,404.0 876.7,399.5 883.3,395.3 889.9,390.9 896.5,387.0 903.1,383.4 909.7,380.0 916.3,376.5 922.9,372.9 929.5,369.1 936.1,366.0 942.7,362.9 949.3,359.9 956.0,356.4 962.6,353.1 969.2,349.4 975.8,345.3 982.4,341.3 989.0,337.1 995.6,332.9 1002.2,328.2 1008.8,323.6 1015.4,318.6 1022.0,313.4 1028.6,308.0 1035.2,302.9 1041.9,297.9 1048.5,292.9 1055.1,287.9 1061.7,283.1 1068.3,278.3 1074.9,273.8 1081.5,269.8 1088.1,266.1 1094.7,263.1 1101.3,260.8 1107.9,260.2 1114.5,261.3 1121.2,261.2 1127.8,261.9 1134.4,262.0 1141.0,262.4 1147.6,262.2 1154.2,262.1 1160.8,262.1 1167.4,262.8 1174.0,263.0" fill="none" stroke="#4a4a4e" stroke-width="1.1"/>
<polyline points="4.4,395.0 11.0,394.9 17.6,394.3 24.2,393.3 30.8,392.3 37.4,390.9 44.0,389.4 50.7,388.2 57.3,386.5 63.9,384.9 70.5,383.3 77.1,381.8 83.7,380.7 90.3,379.5 96.9,377.9 103.5,376.0 110.1,374.3 116.7,372.6 123.3,371.5 130.0,370.8 136.6,369.6 143.2,368.6 149.8,367.7 156.4,367.0 163.0,366.3 169.6,365.8 176.2,365.1 182.8,364.8 189.4,364.7 196.0,364.6 202.6,364.9 209.2,365.1 215.9,366.0 222.5,367.1 229.1,368.5 235.7,370.2 242.3,372.1 248.9,374.0 255.5,376.4 262.1,379.3 268.7,382.2 275.3,384.8 281.9,387.4 288.5,389.8 295.2,392.3 301.8,394.9 308.4,397.5 315.0,400.6 321.6,403.1 328.2,405.6 334.8,408.2 341.4,410.7 348.0,412.8 354.6,414.6 361.2,416.3 367.8,417.9 374.4,419.8 381.1,421.2 387.7,422.2 394.3,423.5 400.9,425.2 407.5,427.2 414.1,429.3 420.7,431.5 427.3,433.4 433.9,435.6 440.5,436.8 447.1,437.9 453.7,439.3 460.4,440.8 467.0,442.1 473.6,443.6 480.2,444.8 486.8,446.3 493.4,448.4 500.0,450.3 506.6,452.3 513.2,453.5 519.8,454.5 526.4,455.0 533.0,456.3 539.6,457.6 546.3,459.4 552.9,461.2 559.5,463.0 566.1,464.9 572.7,466.8 579.3,469.1 585.9,471.2 592.5,473.6 599.1,475.3 605.7,477.1 612.3,478.6 618.9,480.5 625.6,482.8 632.2,484.9 638.8,488.1 645.4,491.4 652.0,494.4 658.6,496.6 665.2,498.6 671.8,500.6 678.4,502.5 685.0,502.5 691.6,501.9 698.2,499.9 704.8,496.3 711.5,489.4 718.1,480.2 724.7,474.7 731.3,468.2 737.9,462.8 744.5,456.2 751.1,451.0 757.7,445.7 764.3,440.9 770.9,434.5 777.5,427.8 784.1,421.1 790.8,413.7 797.4,406.5 804.0,398.8 810.6,390.7 817.2,382.9 823.8,374.9 830.4,366.8 837.0,358.5 843.6,349.6 850.2,339.4 856.8,329.3 863.4,318.2 870.0,307.4 876.7,296.5 883.3,288.0 889.9,279.8 896.5,274.1 903.1,270.4 909.7,270.6 916.3,272.8 922.9,271.1 929.5,270.0 936.1,269.3 942.7,269.6 949.3,268.7 956.0,267.2 962.6,265.3 969.2,264.3 975.8,262.8 982.4,261.4 989.0,260.5 995.6,259.2 1002.2,257.6 1008.8,256.4 1015.4,254.4 1022.0,251.9 1028.6,249.2 1035.2,247.4 1041.9,246.1 1048.5,246.5 1055.1,246.5 1061.7,248.1 1068.3,249.3 1074.9,251.1 1081.5,251.6 1088.1,252.3 1094.7,252.1 1101.3,251.2 1107.9,249.9 1114.5,249.8 1121.2,251.3 1127.8,253.8 1134.4,254.7 1141.0,255.2 1147.6,255.6 1154.2,257.1 1160.8,259.0 1167.4,261.4 1174.0,263.2" fill="none" stroke="#4c9a56" stroke-width="1.1"/>
<polyline points="4.4,395.1 11.0,394.9 17.6,393.9 24.2,392.4 30.8,391.0 37.4,388.9 44.0,386.6 50.7,384.8 57.3,382.3 63.9,379.8 70.5,377.5 77.1,375.2 83.7,373.6 90.3,371.8 96.9,369.4 103.5,366.5 110.1,364.0 116.7,361.4 123.3,359.7 130.0,358.7 136.6,356.8 143.2,355.6 149.8,355.1 156.4,355.6 163.0,356.0 169.6,357.3 176.2,358.5 182.8,359.9 189.4,362.3 196.0,364.7 202.6,367.4 209.2,369.8 215.9,371.8 222.5,373.8 229.1,376.9 235.7,380.1 242.3,383.3 248.9,386.8 255.5,389.6 262.1,392.4 268.7,396.4 275.3,399.5 281.9,403.2 288.5,406.1 295.2,408.2 301.8,410.1 308.4,412.6 315.0,415.1 321.6,417.3 328.2,420.2 334.8,421.8 341.4,424.0 348.0,425.4 354.6,426.8 361.2,427.7 367.8,428.9 374.4,430.1 381.1,430.8 387.7,431.1 394.3,431.0 400.9,431.8 407.5,433.3 414.1,434.7 420.7,436.3 427.3,438.6 433.9,441.2 440.5,442.2 447.1,442.8 453.7,443.8 460.4,445.2 467.0,447.3 473.6,448.9 480.2,451.2 486.8,453.6 493.4,456.3 500.0,458.7 506.6,461.3 513.2,463.5 519.8,465.7 526.4,467.4 533.0,468.5 539.6,469.6 546.3,470.5 552.9,471.3 559.5,472.1 566.1,472.9 572.7,475.1 579.3,477.6 585.9,479.1 592.5,480.2 599.1,481.6 605.7,483.5 612.3,485.4 618.9,487.6 625.6,490.3 632.2,493.1 638.8,496.0 645.4,499.6 652.0,503.6 658.6,507.6 665.2,510.7 671.8,513.4 678.4,515.7 685.0,515.5 691.6,514.6 698.2,511.2 704.8,505.6 711.5,494.0 718.1,479.3 724.7,469.1 731.3,457.9 737.9,448.1 744.5,436.9 751.1,427.1 757.7,416.5 764.3,406.8 770.9,394.7 777.5,382.3 784.1,369.1 790.8,355.9 797.4,343.5 804.0,330.8 810.6,317.8 817.2,308.2 823.8,299.8 830.4,293.5 837.0,289.3 843.6,289.9 850.2,292.3 856.8,289.5 863.4,285.7 870.0,280.3 876.7,276.2 883.3,271.1 889.9,265.8 896.5,261.0 903.1,259.4 909.7,258.1 916.3,256.7 922.9,255.2 929.5,253.2 936.1,253.9 942.7,255.2 949.3,255.8 956.0,254.9 962.6,254.5 969.2,253.3 975.8,252.1 982.4,252.2 989.0,252.7 995.6,255.0 1002.2,256.2 1008.8,257.7 1015.4,257.8 1022.0,257.9 1028.6,256.1 1035.2,254.7 1041.9,253.3 1048.5,252.9 1055.1,252.6 1061.7,252.8 1068.3,250.4 1074.9,248.4 1081.5,245.4 1088.1,243.5 1094.7,241.2 1101.3,239.7 1107.9,238.7 1114.5,239.2 1121.2,241.5 1127.8,245.0 1134.4,249.4 1141.0,253.3 1147.6,257.7 1154.2,262.6 1160.8,269.2 1167.4,274.4 1174.0,277.7" fill="none" stroke="#b9649f" stroke-width="1.1"/>
<polyline points="4.4,395.1 11.0,394.8 17.6,392.9 24.2,389.8 30.8,387.0 37.4,382.8 44.0,378.2 50.7,374.5 57.3,369.5 63.9,364.6 70.5,359.9 77.1,355.7 83.7,354.3 90.3,353.8 96.9,351.7 103.5,350.2 110.1,349.7 116.7,348.2 123.3,349.9 130.0,352.9 136.6,353.8 143.2,355.4 149.8,355.9 156.4,357.3 163.0,360.3 169.6,364.4 176.2,367.4 182.8,371.6 189.4,374.8 196.0,376.5 202.6,380.9 209.2,384.1 215.9,387.7 222.5,390.3 229.1,393.6 235.7,395.9 242.3,399.2 248.9,402.1 255.5,404.4 262.1,408.4 268.7,411.9 275.3,414.9 281.9,418.7 288.5,421.9 295.2,422.9 301.8,424.4 308.4,426.0 315.0,428.1 321.6,430.2 328.2,432.0 334.8,431.6 341.4,433.1 348.0,432.0 354.6,431.6 361.2,432.5 367.8,433.5 374.4,434.3 381.1,433.4 387.7,432.1 394.3,430.1 400.9,432.0 407.5,433.6 414.1,437.3 420.7,441.1 427.3,444.8 433.9,449.0 440.5,450.1 447.1,452.1 453.7,455.5 460.4,460.4 467.0,462.6 473.6,464.2 480.2,465.0 486.8,466.2 493.4,467.8 500.0,468.4 506.6,472.4 513.2,474.9 519.8,476.0 526.4,474.5 533.0,474.4 539.6,475.0 546.3,476.0 552.9,476.4 559.5,476.5 566.1,477.4 572.7,477.8 579.3,480.2 585.9,482.2 592.5,485.9 599.1,488.9 605.7,492.1 612.3,494.8 618.9,498.8 625.6,504.1 632.2,508.9 638.8,514.1 645.4,518.9 652.0,525.1 658.6,529.4 665.2,532.6 671.8,534.8 678.4,536.6 685.0,532.3 691.6,525.2 698.2,513.5 704.8,497.0 711.5,469.1 718.1,433.5 724.7,408.8 731.3,383.2 737.9,361.4 744.5,337.1 751.1,321.8 757.7,307.9 764.3,300.2 770.9,292.4 777.5,295.5 784.1,304.8 790.8,302.9 797.4,303.8 804.0,300.1 810.6,298.5 817.2,294.6 823.8,291.7 830.4,286.8 837.0,286.2 843.6,284.3 850.2,279.8 856.8,276.1 863.4,267.6 870.0,260.6 876.7,253.9 883.3,247.6 889.9,239.8 896.5,235.2 903.1,232.6 909.7,231.9 916.3,233.6 922.9,234.4 929.5,238.8 936.1,247.2 942.7,256.5 949.3,263.9 956.0,269.9 962.6,273.7 969.2,274.0 975.8,272.4 982.4,270.9 989.0,271.1 995.6,271.3 1002.2,265.2 1008.8,258.9 1015.4,251.6 1022.0,246.0 1028.6,238.5 1035.2,235.4 1041.9,234.2 1048.5,235.0 1055.1,234.2 1061.7,234.2 1068.3,235.6 1074.9,237.9 1081.5,239.2 1088.1,241.1 1094.7,244.0 1101.3,244.0 1107.9,243.1 1114.5,243.5 1121.2,248.8 1127.8,255.8 1134.4,263.3 1141.0,268.8 1147.6,276.1 1154.2,284.2 1160.8,294.4 1167.4,304.8 1174.0,312.3" fill="none" stroke="#cbb070" stroke-width="1.1"/>
<polyline points="4.4,395.2 11.0,394.6 17.6,390.7 24.2,384.5 30.8,379.1 37.4,370.5 44.0,361.9 50.7,358.3 57.3,354.6 63.9,350.1 70.5,349.3 77.1,349.5 83.7,350.2 90.3,353.1 96.9,353.2 103.5,351.1 110.1,349.9 116.7,346.2 123.3,346.7 130.0,352.5 136.6,356.5 143.2,360.9 149.8,365.5 156.4,367.9 163.0,368.1 169.6,372.2 176.2,373.8 182.8,377.7 189.4,381.7 196.0,384.9 202.6,389.7 209.2,394.4 215.9,397.7 222.5,399.0 229.1,402.3 235.7,402.1 242.3,404.1 248.9,406.4 255.5,409.9 262.1,414.6 268.7,421.7 275.3,425.8 281.9,431.0 288.5,434.0 295.2,431.2 301.8,427.1 308.4,426.2 315.0,425.3 321.6,426.4 328.2,432.8 334.8,436.2 341.4,440.0 348.0,438.8 354.6,436.7 361.2,432.2 367.8,430.7 374.4,428.6 381.1,428.1 387.7,427.4 394.3,427.9 400.9,433.2 407.5,438.5 414.1,446.5 420.7,454.7 427.3,461.6 433.9,464.8 440.5,461.7 447.1,457.8 453.7,456.3 460.4,459.2 467.0,460.4 473.6,466.7 480.2,472.2 486.8,476.1 493.4,476.4 500.0,476.4 506.6,478.1 513.2,477.5 519.8,475.8 526.4,472.5 533.0,472.3 539.6,471.8 546.3,474.4 552.9,476.9 559.5,480.5 566.1,482.4 572.7,483.9 579.3,486.1 585.9,487.4 592.5,491.3 599.1,495.4 605.7,500.3 612.3,503.6 618.9,510.2 625.6,516.8 632.2,522.5 638.8,528.0 645.4,534.3 652.0,539.9 658.6,542.0 665.2,542.7 671.8,541.6 678.4,538.9 685.0,524.6 691.6,508.4 698.2,484.2 704.8,452.4 711.5,399.3 718.1,342.4 724.7,309.3 731.3,282.2 737.9,270.5 744.5,275.0 751.1,301.2 757.7,306.5 764.3,318.2 770.9,314.3 777.5,316.0 784.1,308.3 790.8,299.4 797.4,289.3 804.0,285.9 810.6,281.0 817.2,281.0 823.8,284.1 830.4,284.3 837.0,286.5 843.6,287.6 850.2,278.7 856.8,268.1 863.4,250.9 870.0,234.7 876.7,220.1 883.3,216.6 889.9,211.5 896.5,219.5 903.1,230.5 909.7,243.6 916.3,250.7 922.9,257.2 929.5,258.0 936.1,263.8 942.7,269.4 949.3,277.2 956.0,282.6 962.6,289.5 969.2,284.3 975.8,275.3 982.4,264.5 989.0,259.5 995.6,253.1 1002.2,246.1 1008.8,242.5 1015.4,238.6 1022.0,232.4 1028.6,223.8 1035.2,224.8 1041.9,225.9 1048.5,231.3 1055.1,236.0 1061.7,244.6 1068.3,246.5 1074.9,249.8 1081.5,247.1 1088.1,246.2 1094.7,243.3 1101.3,241.6 1107.9,236.3 1114.5,239.9 1121.2,251.3 1127.8,268.3 1134.4,285.0 1141.0,301.2 1147.6,312.4 1154.2,317.0 1160.8,320.6 1167.4,324.6 1174.0,323.4" fill="none" stroke="#45485c" stroke-width="1.1"/>
<circle cx="719.4" cy="110.6" r="2.3" fill="#2a2d3a"/><line x1="719.4" y1="110.6" x2="735" y2="110.6" stroke="#2a2d3a" stroke-width="1.3"/>
<circle cx="661" cy="557" r="2.3" fill="#2a2d3a"/><line x1="661" y1="557" x2="675.5" y2="557" stroke="#2a2d3a" stroke-width="1.3"/>
<path d="M39.8,57.8 L44.2,62.7 L39.8,67.6 L35.4,62.7Z" fill="#1f8a2b" stroke="#1f8a2b" stroke-width="0.6" stroke-linejoin="round"/>
<path d="M52.6,57.8 L57.0,62.7 L52.6,67.6 L48.2,62.7Z" fill="#1f8a2b" stroke="#1f8a2b" stroke-width="0.6" stroke-linejoin="round"/>
<path d="M65.9,57.8 L70.3,62.7 L65.9,67.6 L61.5,62.7Z" fill="#1f8a2b" stroke="#1f8a2b" stroke-width="0.6" stroke-linejoin="round"/>
<path d="M91.9,57.8 L96.3,62.7 L91.9,67.6 L87.5,62.7Z" fill="#1f8a2b" stroke="#1f8a2b" stroke-width="0.6" stroke-linejoin="round"/>
<path d="M99.0,57.8 L103.4,62.7 L99.0,67.6 L94.6,62.7Z" fill="#1f8a2b" stroke="#1f8a2b" stroke-width="0.6" stroke-linejoin="round"/>
<path d="M111.8,57.8 L116.2,62.7 L111.8,67.6 L107.4,62.7Z" fill="#1f8a2b" stroke="#1f8a2b" stroke-width="0.6" stroke-linejoin="round"/>
<path d="M131.5,57.8 L135.9,62.7 L131.5,67.6 L127.1,62.7Z" fill="#1f8a2b" stroke="#1f8a2b" stroke-width="0.6" stroke-linejoin="round"/>
<path d="M210.4,57.8 L214.8,62.7 L210.4,67.6 L206.0,62.7Z" fill="#1f8a2b" stroke="#1f8a2b" stroke-width="0.6" stroke-linejoin="round"/>
<path d="M218.0,57.8 L222.4,62.7 L218.0,67.6 L213.6,62.7Z" fill="#1f8a2b" stroke="#1f8a2b" stroke-width="0.6" stroke-linejoin="round"/>
<path d="M270.9,57.8 L275.3,62.7 L270.9,67.6 L266.5,62.7Z" fill="#1f8a2b" stroke="#1f8a2b" stroke-width="0.6" stroke-linejoin="round"/>
<path d="M290.3,57.8 L294.7,62.7 L290.3,67.6 L285.9,62.7Z" fill="#1f8a2b" stroke="#1f8a2b" stroke-width="0.6" stroke-linejoin="round"/>
<path d="M323.9,57.8 L328.3,62.7 L323.9,67.6 L319.5,62.7Z" fill="#1f8a2b" stroke="#1f8a2b" stroke-width="0.6" stroke-linejoin="round"/>
<path d="M343.3,57.8 L347.7,62.7 L343.3,67.6 L338.9,62.7Z" fill="#1f8a2b" stroke="#1f8a2b" stroke-width="0.6" stroke-linejoin="round"/>
<path d="M350.4,57.8 L354.8,62.7 L350.4,67.6 L346.0,62.7Z" fill="#1f8a2b" stroke="#1f8a2b" stroke-width="0.6" stroke-linejoin="round"/>
<path d="M370.1,57.8 L374.5,62.7 L370.1,67.6 L365.7,62.7Z" fill="#1f8a2b" stroke="#1f8a2b" stroke-width="0.6" stroke-linejoin="round"/>
<path d="M429.8,57.8 L434.2,62.7 L429.8,67.6 L425.4,62.7Z" fill="#1f8a2b" stroke="#1f8a2b" stroke-width="0.6" stroke-linejoin="round"/>
<path d="M436.4,57.8 L440.8,62.7 L436.4,67.6 L432.0,62.7Z" fill="#1f8a2b" stroke="#1f8a2b" stroke-width="0.6" stroke-linejoin="round"/>
<path d="M462.5,57.8 L466.9,62.7 L462.5,67.6 L458.1,62.7Z" fill="#1f8a2b" stroke="#1f8a2b" stroke-width="0.6" stroke-linejoin="round"/>
<path d="M475.5,57.8 L479.9,62.7 L475.5,67.6 L471.1,62.7Z" fill="#1f8a2b" stroke="#1f8a2b" stroke-width="0.6" stroke-linejoin="round"/>
<path d="M515.1,57.8 L519.5,62.7 L515.1,67.6 L510.7,62.7Z" fill="#1f8a2b" stroke="#1f8a2b" stroke-width="0.6" stroke-linejoin="round"/>
<path d="M554.9,57.8 L559.3,62.7 L554.9,67.6 L550.5,62.7Z" fill="#1f8a2b" stroke="#1f8a2b" stroke-width="0.6" stroke-linejoin="round"/>
<path d="M581.0,57.8 L585.4,62.7 L581.0,67.6 L576.6,62.7Z" fill="#1f8a2b" stroke="#1f8a2b" stroke-width="0.6" stroke-linejoin="round"/>
<path d="M587.4,57.8 L591.8,62.7 L587.4,67.6 L583.0,62.7Z" fill="#1f8a2b" stroke="#1f8a2b" stroke-width="0.6" stroke-linejoin="round"/>
<path d="M628.0,57.8 L632.4,62.7 L628.0,67.6 L623.6,62.7Z" fill="#1f8a2b" stroke="#1f8a2b" stroke-width="0.6" stroke-linejoin="round"/>
<path d="M634.7,57.8 L639.1,62.7 L634.7,67.6 L630.3,62.7Z" fill="#1f8a2b" stroke="#1f8a2b" stroke-width="0.6" stroke-linejoin="round"/>
<path d="M647.7,57.8 L652.1,62.7 L647.7,67.6 L643.3,62.7Z" fill="#1f8a2b" stroke="#1f8a2b" stroke-width="0.6" stroke-linejoin="round"/>
<path d="M654.1,57.8 L658.5,62.7 L654.1,67.6 L649.7,62.7Z" fill="#1f8a2b" stroke="#1f8a2b" stroke-width="0.6" stroke-linejoin="round"/>
<path d="M667.1,57.8 L671.5,62.7 L667.1,67.6 L662.7,62.7Z" fill="#1f8a2b" stroke="#1f8a2b" stroke-width="0.6" stroke-linejoin="round"/>
<path d="M673.8,57.8 L678.2,62.7 L673.8,67.6 L669.4,62.7Z" fill="#1f8a2b" stroke="#1f8a2b" stroke-width="0.6" stroke-linejoin="round"/>
<path d="M680.5,57.8 L684.9,62.7 L680.5,67.6 L676.1,62.7Z" fill="#1f8a2b" stroke="#1f8a2b" stroke-width="0.6" stroke-linejoin="round"/>
<path d="M687.2,57.8 L691.6,62.7 L687.2,67.6 L682.8,62.7Z" fill="#1f8a2b" stroke="#1f8a2b" stroke-width="0.6" stroke-linejoin="round"/>
<path d="M693.9,57.8 L698.3,62.7 L693.9,67.6 L689.5,62.7Z" fill="#1f8a2b" stroke="#1f8a2b" stroke-width="0.6" stroke-linejoin="round"/>
<path d="M700.6,57.8 L705.0,62.7 L700.6,67.6 L696.2,62.7Z" fill="#1f8a2b" stroke="#1f8a2b" stroke-width="0.6" stroke-linejoin="round"/>
<path d="M707.3,57.8 L711.7,62.7 L707.3,67.6 L702.9,62.7Z" fill="#1f8a2b" stroke="#1f8a2b" stroke-width="0.6" stroke-linejoin="round"/>
<path d="M714.0,57.8 L718.4,62.7 L714.0,67.6 L709.6,62.7Z" fill="#1f8a2b" stroke="#1f8a2b" stroke-width="0.6" stroke-linejoin="round"/>
<path d="M720.7,57.8 L725.1,62.7 L720.7,67.6 L716.3,62.7Z" fill="#1f8a2b" stroke="#1f8a2b" stroke-width="0.6" stroke-linejoin="round"/>
<path d="M732.9,57.8 L737.3,62.7 L732.9,67.6 L728.5,62.7Z" fill="#1f8a2b" stroke="#1f8a2b" stroke-width="0.6" stroke-linejoin="round"/>
<path d="M739.6,57.8 L744.0,62.7 L739.6,67.6 L735.2,62.7Z" fill="#1f8a2b" stroke="#1f8a2b" stroke-width="0.6" stroke-linejoin="round"/>
<path d="M746.3,57.8 L750.7,62.7 L746.3,67.6 L741.9,62.7Z" fill="#1f8a2b" stroke="#1f8a2b" stroke-width="0.6" stroke-linejoin="round"/>
<path d="M753.0,57.8 L757.4,62.7 L753.0,67.6 L748.6,62.7Z" fill="#1f8a2b" stroke="#1f8a2b" stroke-width="0.6" stroke-linejoin="round"/>
<path d="M759.7,57.8 L764.1,62.7 L759.7,67.6 L755.3,62.7Z" fill="#1f8a2b" stroke="#1f8a2b" stroke-width="0.6" stroke-linejoin="round"/>
<path d="M766.4,57.8 L770.8,62.7 L766.4,67.6 L762.0,62.7Z" fill="#1f8a2b" stroke="#1f8a2b" stroke-width="0.6" stroke-linejoin="round"/>
<path d="M773.1,57.8 L777.5,62.7 L773.1,67.6 L768.7,62.7Z" fill="#1f8a2b" stroke="#1f8a2b" stroke-width="0.6" stroke-linejoin="round"/>
<path d="M779.8,57.8 L784.2,62.7 L779.8,67.6 L775.4,62.7Z" fill="#1f8a2b" stroke="#1f8a2b" stroke-width="0.6" stroke-linejoin="round"/>
<path d="M786.5,57.8 L790.9,62.7 L786.5,67.6 L782.1,62.7Z" fill="#1f8a2b" stroke="#1f8a2b" stroke-width="0.6" stroke-linejoin="round"/>
<path d="M793.2,57.8 L797.6,62.7 L793.2,67.6 L788.8,62.7Z" fill="#1f8a2b" stroke="#1f8a2b" stroke-width="0.6" stroke-linejoin="round"/>
<path d="M799.9,57.8 L804.3,62.7 L799.9,67.6 L795.5,62.7Z" fill="#1f8a2b" stroke="#1f8a2b" stroke-width="0.6" stroke-linejoin="round"/>
<path d="M812.1,57.8 L816.5,62.7 L812.1,67.6 L807.7,62.7Z" fill="#1f8a2b" stroke="#1f8a2b" stroke-width="0.6" stroke-linejoin="round"/>
<path d="M819.5,57.8 L823.9,62.7 L819.5,67.6 L815.1,62.7Z" fill="#1f8a2b" stroke="#1f8a2b" stroke-width="0.6" stroke-linejoin="round"/>
<path d="M859.4,57.8 L863.8,62.7 L859.4,67.6 L855.0,62.7Z" fill="#1f8a2b" stroke="#1f8a2b" stroke-width="0.6" stroke-linejoin="round"/>
<path d="M866.1,57.8 L870.5,62.7 L866.1,67.6 L861.7,62.7Z" fill="#1f8a2b" stroke="#1f8a2b" stroke-width="0.6" stroke-linejoin="round"/>
<path d="M872.8,57.8 L877.2,62.7 L872.8,67.6 L868.4,62.7Z" fill="#1f8a2b" stroke="#1f8a2b" stroke-width="0.6" stroke-linejoin="round"/>
<path d="M930.6,57.8 L935.0,62.7 L930.6,67.6 L926.2,62.7Z" fill="#1f8a2b" stroke="#1f8a2b" stroke-width="0.6" stroke-linejoin="round"/>
<path d="M937.3,57.8 L941.7,62.7 L937.3,67.6 L932.9,62.7Z" fill="#1f8a2b" stroke="#1f8a2b" stroke-width="0.6" stroke-linejoin="round"/>
<path d="M944.0,57.8 L948.4,62.7 L944.0,67.6 L939.6,62.7Z" fill="#1f8a2b" stroke="#1f8a2b" stroke-width="0.6" stroke-linejoin="round"/>
<path d="M971.6,57.8 L976.0,62.7 L971.6,67.6 L967.2,62.7Z" fill="#1f8a2b" stroke="#1f8a2b" stroke-width="0.6" stroke-linejoin="round"/>
<path d="M978.4,57.8 L982.8,62.7 L978.4,67.6 L974.0,62.7Z" fill="#1f8a2b" stroke="#1f8a2b" stroke-width="0.6" stroke-linejoin="round"/>
<path d="M991.0,57.8 L995.4,62.7 L991.0,67.6 L986.6,62.7Z" fill="#1f8a2b" stroke="#1f8a2b" stroke-width="0.6" stroke-linejoin="round"/>
<path d="M1010.6,57.8 L1015.0,62.7 L1010.6,67.6 L1006.2,62.7Z" fill="#1f8a2b" stroke="#1f8a2b" stroke-width="0.6" stroke-linejoin="round"/>
<path d="M1030.5,57.8 L1034.9,62.7 L1030.5,67.6 L1026.1,62.7Z" fill="#1f8a2b" stroke="#1f8a2b" stroke-width="0.6" stroke-linejoin="round"/>
<path d="M1070.2,57.8 L1074.6,62.7 L1070.2,67.6 L1065.8,62.7Z" fill="#1f8a2b" stroke="#1f8a2b" stroke-width="0.6" stroke-linejoin="round"/>
<path d="M1103.0,57.8 L1107.4,62.7 L1103.0,67.6 L1098.6,62.7Z" fill="#1f8a2b" stroke="#1f8a2b" stroke-width="0.6" stroke-linejoin="round"/>
<path d="M1115.8,57.8 L1120.2,62.7 L1115.8,67.6 L1111.4,62.7Z" fill="#1f8a2b" stroke="#1f8a2b" stroke-width="0.6" stroke-linejoin="round"/>
<path d="M1123.1,57.8 L1127.5,62.7 L1123.1,67.6 L1118.7,62.7Z" fill="#1f8a2b" stroke="#1f8a2b" stroke-width="0.6" stroke-linejoin="round"/>
<path d="M1142.7,57.8 L1147.1,62.7 L1142.7,67.6 L1138.3,62.7Z" fill="#1f8a2b" stroke="#1f8a2b" stroke-width="0.6" stroke-linejoin="round"/>
<path d="M1150.0,57.8 L1154.4,62.7 L1150.0,67.6 L1145.6,62.7Z" fill="#1f8a2b" stroke="#1f8a2b" stroke-width="0.6" stroke-linejoin="round"/>
<rect x="2.5" y="714.3" width="3.8" height="31.5" fill="#fff8f8" stroke="#c65462" stroke-width="1"/>
<rect x="9.1" y="715.2" width="3.8" height="30.6" fill="#fff8f8" stroke="#c65462" stroke-width="1"/>
<rect x="15.7" y="700.2" width="3.8" height="45.6" fill="#fff8f8" stroke="#c65462" stroke-width="1"/>
<rect x="22.3" y="693.3" width="3.8" height="52.5" fill="#fff8f8" stroke="#c65462" stroke-width="1"/>
<rect x="28.5" y="700.2" width="4.6" height="45.6" fill="#1f8a2b"/>
<rect x="35.5" y="699.4" width="3.8" height="46.4" fill="#fff8f8" stroke="#c65462" stroke-width="1"/>
<rect x="42.1" y="706.5" width="3.8" height="39.3" fill="#fff8f8" stroke="#c65462" stroke-width="1"/>
<rect x="48.4" y="711.3" width="4.6" height="34.5" fill="#1f8a2b"/>
<rect x="55.4" y="708.2" width="3.8" height="37.6" fill="#fff8f8" stroke="#c65462" stroke-width="1"/>
<rect x="61.6" y="706.0" width="4.6" height="39.8" fill="#1f8a2b"/>
<rect x="68.6" y="704.9" width="3.8" height="40.9" fill="#fff8f8" stroke="#c65462" stroke-width="1"/>
<rect x="74.8" y="710.4" width="4.6" height="35.4" fill="#1f8a2b"/>
<rect x="81.4" y="712.1" width="4.6" height="33.7" fill="#1f8a2b"/>
<rect x="88.0" y="707.1" width="4.6" height="38.7" fill="#1f8a2b"/>
<rect x="95.0" y="706.3" width="3.8" height="39.5" fill="#fff8f8" stroke="#c65462" stroke-width="1"/>
<rect x="101.6" y="702.1" width="3.8" height="43.7" fill="#fff8f8" stroke="#c65462" stroke-width="1"/>
<rect x="107.8" y="710.1" width="4.6" height="35.7" fill="#1f8a2b"/>
<rect x="114.8" y="707.6" width="3.8" height="38.2" fill="#fff8f8" stroke="#c65462" stroke-width="1"/>
<rect x="121.0" y="707.6" width="4.6" height="38.2" fill="#1f8a2b"/>
<rect x="127.7" y="714.3" width="4.6" height="31.5" fill="#1f8a2b"/>
<rect x="134.7" y="712.1" width="3.8" height="33.7" fill="#fff8f8" stroke="#c65462" stroke-width="1"/>
<rect x="140.9" y="713.2" width="4.6" height="32.6" fill="#1f8a2b"/>
<rect x="147.9" y="715.2" width="3.8" height="30.6" fill="#fff8f8" stroke="#c65462" stroke-width="1"/>
<rect x="154.1" y="714.8" width="4.6" height="31.0" fill="#1f8a2b"/>
<rect x="160.7" y="717.0" width="4.6" height="28.8" fill="#1f8a2b"/>
<rect x="167.3" y="708.5" width="4.6" height="37.3" fill="#1f8a2b"/>
<rect x="174.3" y="712.6" width="3.8" height="33.2" fill="#fff8f8" stroke="#c65462" stroke-width="1"/>
<rect x="180.5" y="714.8" width="4.6" height="31.0" fill="#1f8a2b"/>
<rect x="187.1" y="707.6" width="4.6" height="38.2" fill="#1f8a2b"/>
<rect x="193.7" y="713.7" width="4.6" height="32.1" fill="#1f8a2b"/>
<rect x="200.3" y="713.2" width="4.6" height="32.6" fill="#1f8a2b"/>
<rect x="207.3" y="717.4" width="3.8" height="28.4" fill="#fff8f8" stroke="#c65462" stroke-width="1"/>
<rect x="213.6" y="715.2" width="4.6" height="30.6" fill="#1f8a2b"/>
<rect x="220.6" y="709.3" width="3.8" height="36.5" fill="#fff8f8" stroke="#c65462" stroke-width="1"/>
<rect x="226.8" y="715.2" width="4.6" height="30.6" fill="#1f8a2b"/>
<rect x="233.8" y="717.4" width="3.8" height="28.4" fill="#fff8f8" stroke="#c65462" stroke-width="1"/>
<rect x="240.0" y="718.9" width="4.6" height="26.9" fill="#1f8a2b"/>
<rect x="246.6" y="715.9" width="4.6" height="29.9" fill="#1f8a2b"/>
<rect x="253.2" y="718.9" width="4.6" height="26.9" fill="#1f8a2b"/>
<rect x="259.8" y="714.8" width="4.6" height="31.0" fill="#1f8a2b"/>
<rect x="266.4" y="717.6" width="4.6" height="28.2" fill="#1f8a2b"/>
<rect x="273.4" y="717.0" width="3.8" height="28.8" fill="#fff8f8" stroke="#c65462" stroke-width="1"/>
<rect x="279.6" y="718.2" width="4.6" height="27.6" fill="#1f8a2b"/>
<rect x="286.6" y="713.2" width="3.8" height="32.6" fill="#fff8f8" stroke="#c65462" stroke-width="1"/>
<rect x="293.3" y="715.6" width="3.8" height="30.2" fill="#fff8f8" stroke="#c65462" stroke-width="1"/>
<rect x="299.9" y="715.9" width="3.8" height="29.9" fill="#fff8f8" stroke="#c65462" stroke-width="1"/>
<rect x="306.1" y="720.0" width="4.6" height="25.8" fill="#1f8a2b"/>
<rect x="312.7" y="717.4" width="4.6" height="28.4" fill="#1f8a2b"/>
<rect x="319.3" y="717.6" width="4.6" height="28.2" fill="#1f8a2b"/>
<rect x="325.9" y="718.2" width="4.6" height="27.6" fill="#1f8a2b"/>
<rect x="332.9" y="713.2" width="3.8" height="32.6" fill="#fff8f8" stroke="#c65462" stroke-width="1"/>
<rect x="339.1" y="714.3" width="4.6" height="31.5" fill="#1f8a2b"/>
<rect x="346.1" y="711.5" width="3.8" height="34.3" fill="#fff8f8" stroke="#c65462" stroke-width="1"/>
<rect x="352.7" y="715.4" width="3.8" height="30.4" fill="#fff8f8" stroke="#c65462" stroke-width="1"/>
<rect x="359.3" y="718.2" width="3.8" height="27.6" fill="#fff8f8" stroke="#c65462" stroke-width="1"/>
<rect x="365.9" y="718.9" width="3.8" height="26.9" fill="#fff8f8" stroke="#c65462" stroke-width="1"/>
<rect x="372.1" y="716.5" width="4.6" height="29.3" fill="#1f8a2b"/>
<rect x="379.2" y="717.6" width="3.8" height="28.2" fill="#fff8f8" stroke="#c65462" stroke-width="1"/>
<rect x="385.8" y="715.6" width="3.8" height="30.2" fill="#fff8f8" stroke="#c65462" stroke-width="1"/>
<rect x="392.0" y="717.6" width="4.6" height="28.2" fill="#1f8a2b"/>
<rect x="398.6" y="715.4" width="4.6" height="30.4" fill="#1f8a2b"/>
<rect x="405.2" y="714.3" width="4.6" height="31.5" fill="#1f8a2b"/>
<rect x="411.8" y="716.5" width="4.6" height="29.3" fill="#1f8a2b"/>
<rect x="418.8" y="717.0" width="3.8" height="28.8" fill="#fff8f8" stroke="#c65462" stroke-width="1"/>
<rect x="425.4" y="718.7" width="3.8" height="27.1" fill="#fff8f8" stroke="#c65462" stroke-width="1"/>
<rect x="431.6" y="717.6" width="4.6" height="28.2" fill="#1f8a2b"/>
<rect x="438.6" y="703.0" width="3.8" height="42.8" fill="#fff8f8" stroke="#c65462" stroke-width="1"/>
<rect x="444.8" y="709.3" width="4.6" height="36.5" fill="#1f8a2b"/>
<rect x="451.4" y="712.6" width="4.6" height="33.2" fill="#1f8a2b"/>
<rect x="458.1" y="708.5" width="4.6" height="37.3" fill="#1f8a2b"/>
<rect x="464.7" y="715.2" width="4.6" height="30.6" fill="#1f8a2b"/>
<rect x="471.7" y="718.2" width="3.8" height="27.6" fill="#fff8f8" stroke="#c65462" stroke-width="1"/>
<rect x="478.3" y="716.3" width="3.8" height="29.5" fill="#fff8f8" stroke="#c65462" stroke-width="1"/>
<rect x="484.5" y="715.9" width="4.6" height="29.9" fill="#1f8a2b"/>
<rect x="491.1" y="720.0" width="4.6" height="25.8" fill="#1f8a2b"/>
<rect x="498.1" y="722.0" width="3.8" height="23.8" fill="#fff8f8" stroke="#c65462" stroke-width="1"/>
<rect x="504.3" y="722.9" width="4.6" height="22.9" fill="#1f8a2b"/>
<rect x="511.3" y="717.6" width="3.8" height="28.2" fill="#fff8f8" stroke="#c65462" stroke-width="1"/>
<rect x="517.9" y="718.2" width="3.8" height="27.6" fill="#fff8f8" stroke="#c65462" stroke-width="1"/>
<rect x="524.5" y="718.7" width="3.8" height="27.1" fill="#fff8f8" stroke="#c65462" stroke-width="1"/>
<rect x="530.7" y="718.5" width="4.6" height="27.3" fill="#1f8a2b"/>
<rect x="537.3" y="721.8" width="4.6" height="24.0" fill="#1f8a2b"/>
<rect x="544.0" y="719.8" width="4.6" height="26.0" fill="#1f8a2b"/>
<rect x="551.0" y="722.0" width="3.8" height="23.8" fill="#fff8f8" stroke="#c65462" stroke-width="1"/>
<rect x="557.6" y="721.5" width="3.8" height="24.3" fill="#fff8f8" stroke="#c65462" stroke-width="1"/>
<rect x="563.8" y="722.2" width="4.6" height="23.6" fill="#1f8a2b"/>
<rect x="570.4" y="722.2" width="4.6" height="23.6" fill="#1f8a2b"/>
<rect x="577.0" y="717.0" width="4.6" height="28.8" fill="#1f8a2b"/>
<rect x="584.0" y="704.9" width="3.8" height="40.9" fill="#fff8f8" stroke="#c65462" stroke-width="1"/>
<rect x="590.2" y="710.1" width="4.6" height="35.7" fill="#1f8a2b"/>
<rect x="596.8" y="717.4" width="4.6" height="28.4" fill="#1f8a2b"/>
<rect x="603.4" y="718.5" width="4.6" height="27.3" fill="#1f8a2b"/>
<rect x="610.4" y="721.1" width="3.8" height="24.7" fill="#fff8f8" stroke="#c65462" stroke-width="1"/>
<rect x="616.6" y="718.7" width="4.6" height="27.1" fill="#1f8a2b"/>
<rect x="623.3" y="719.3" width="4.6" height="26.5" fill="#1f8a2b"/>
<rect x="630.3" y="718.2" width="3.8" height="27.6" fill="#fff8f8" stroke="#c65462" stroke-width="1"/>
<rect x="636.5" y="720.7" width="4.6" height="25.1" fill="#1f8a2b"/>
<rect x="643.1" y="720.7" width="4.6" height="25.1" fill="#1f8a2b"/>
<rect x="649.7" y="720.7" width="4.6" height="25.1" fill="#1f8a2b"/>
<rect x="656.7" y="720.0" width="3.8" height="25.8" fill="#fff8f8" stroke="#c65462" stroke-width="1"/>
<rect x="663.3" y="713.2" width="3.8" height="32.6" fill="#fff8f8" stroke="#c65462" stroke-width="1"/>
<rect x="669.9" y="716.3" width="3.8" height="29.5" fill="#fff8f8" stroke="#c65462" stroke-width="1"/>
<rect x="676.5" y="719.4" width="3.8" height="26.4" fill="#fff8f8" stroke="#c65462" stroke-width="1"/>
<rect x="683.1" y="696.3" width="3.8" height="49.5" fill="#fff8f8" stroke="#c65462" stroke-width="1"/>
<rect x="689.3" y="686.9" width="4.6" height="58.9" fill="#1f8a2b"/>
<rect x="696.3" y="685.9" width="3.8" height="59.9" fill="#fff8f8" stroke="#c65462" stroke-width="1"/>
<rect x="702.9" y="694.3" width="3.8" height="51.5" fill="#fff8f8" stroke="#c65462" stroke-width="1"/>
<rect x="709.6" y="632.0" width="3.8" height="113.8" fill="#fff8f8" stroke="#c65462" stroke-width="1"/>
<rect x="715.8" y="611.4" width="4.6" height="134.4" fill="#1f8a2b"/>
<rect x="722.4" y="643.5" width="4.6" height="102.3" fill="#1f8a2b"/>
<rect x="729.4" y="659.5" width="3.8" height="86.3" fill="#fff8f8" stroke="#c65462" stroke-width="1"/>
<rect x="735.6" y="683.3" width="4.6" height="62.5" fill="#1f8a2b"/>
<rect x="742.6" y="680.5" width="3.8" height="65.3" fill="#fff8f8" stroke="#c65462" stroke-width="1"/>
<rect x="748.8" y="686.9" width="4.6" height="58.9" fill="#1f8a2b"/>
<rect x="755.8" y="692.3" width="3.8" height="53.5" fill="#fff8f8" stroke="#c65462" stroke-width="1"/>
<rect x="762.0" y="690.5" width="4.6" height="55.3" fill="#1f8a2b"/>
<rect x="769.0" y="674.5" width="3.8" height="71.3" fill="#fff8f8" stroke="#c65462" stroke-width="1"/>
<rect x="775.2" y="676.3" width="4.6" height="69.5" fill="#1f8a2b"/>
<rect x="782.2" y="685.9" width="3.8" height="59.9" fill="#fff8f8" stroke="#c65462" stroke-width="1"/>
<rect x="788.9" y="678.5" width="3.8" height="67.3" fill="#fff8f8" stroke="#c65462" stroke-width="1"/>
<rect x="795.1" y="691.5" width="4.6" height="54.3" fill="#1f8a2b"/>
<rect x="802.1" y="684.9" width="3.8" height="60.9" fill="#fff8f8" stroke="#c65462" stroke-width="1"/>
<rect x="808.7" y="676.5" width="3.8" height="69.3" fill="#fff8f8" stroke="#c65462" stroke-width="1"/>
<rect x="814.9" y="670.5" width="4.6" height="75.3" fill="#1f8a2b"/>
<rect x="821.5" y="676.3" width="4.6" height="69.5" fill="#1f8a2b"/>
<rect x="828.5" y="665.0" width="3.8" height="80.8" fill="#fff8f8" stroke="#c65462" stroke-width="1"/>
<rect x="834.7" y="657.2" width="4.6" height="88.6" fill="#1f8a2b"/>
<rect x="841.7" y="677.1" width="3.8" height="68.7" fill="#fff8f8" stroke="#c65462" stroke-width="1"/>
<rect x="848.3" y="661.2" width="3.8" height="84.6" fill="#fff8f8" stroke="#c65462" stroke-width="1"/>
<rect x="854.5" y="652.5" width="4.6" height="93.3" fill="#1f8a2b"/>
<rect x="861.5" y="646.8" width="3.8" height="99.0" fill="#fff8f8" stroke="#c65462" stroke-width="1"/>
<rect x="867.7" y="646.3" width="4.6" height="99.5" fill="#1f8a2b"/>
<rect x="874.8" y="661.5" width="3.8" height="84.3" fill="#fff8f8" stroke="#c65462" stroke-width="1"/>
<rect x="881.0" y="660.7" width="4.6" height="85.1" fill="#1f8a2b"/>
<rect x="888.0" y="676.3" width="3.8" height="69.5" fill="#fff8f8" stroke="#c65462" stroke-width="1"/>
<rect x="894.2" y="680.2" width="4.6" height="65.6" fill="#1f8a2b"/>
<rect x="900.8" y="680.2" width="4.6" height="65.6" fill="#1f8a2b"/>
<rect x="907.4" y="669.0" width="4.6" height="76.8" fill="#1f8a2b"/>
<rect x="914.4" y="680.9" width="3.8" height="64.9" fill="#fff8f8" stroke="#c65462" stroke-width="1"/>
<rect x="921.0" y="686.6" width="3.8" height="59.2" fill="#fff8f8" stroke="#c65462" stroke-width="1"/>
<rect x="927.6" y="690.1" width="3.8" height="55.7" fill="#fff8f8" stroke="#c65462" stroke-width="1"/>
<rect x="933.8" y="680.2" width="4.6" height="65.6" fill="#1f8a2b"/>
<rect x="940.4" y="689.6" width="4.6" height="56.2" fill="#1f8a2b"/>
<rect x="947.4" y="697.4" width="3.8" height="48.4" fill="#fff8f8" stroke="#c65462" stroke-width="1"/>
<rect x="954.1" y="692.3" width="3.8" height="53.5" fill="#fff8f8" stroke="#c65462" stroke-width="1"/>
<rect x="960.3" y="692.4" width="4.6" height="53.4" fill="#1f8a2b"/>
<rect x="967.3" y="686.6" width="3.8" height="59.2" fill="#fff8f8" stroke="#c65462" stroke-width="1"/>
<rect x="973.9" y="676.3" width="3.8" height="69.5" fill="#fff8f8" stroke="#c65462" stroke-width="1"/>
<rect x="980.5" y="677.4" width="3.8" height="68.4" fill="#fff8f8" stroke="#c65462" stroke-width="1"/>
<rect x="986.7" y="681.5" width="4.6" height="64.3" fill="#1f8a2b"/>
<rect x="993.7" y="689.5" width="3.8" height="56.3" fill="#fff8f8" stroke="#c65462" stroke-width="1"/>
<rect x="1000.3" y="673.4" width="3.8" height="72.4" fill="#fff8f8" stroke="#c65462" stroke-width="1"/>
<rect x="1006.5" y="673.7" width="4.6" height="72.1" fill="#1f8a2b"/>
<rect x="1013.1" y="663.4" width="4.6" height="82.4" fill="#1f8a2b"/>
<rect x="1020.1" y="675.2" width="3.8" height="70.6" fill="#fff8f8" stroke="#c65462" stroke-width="1"/>
<rect x="1026.7" y="673.4" width="3.8" height="72.4" fill="#fff8f8" stroke="#c65462" stroke-width="1"/>
<rect x="1032.9" y="665.2" width="4.6" height="80.6" fill="#1f8a2b"/>
<rect x="1039.6" y="681.5" width="4.6" height="64.3" fill="#1f8a2b"/>
<rect x="1046.2" y="686.9" width="4.6" height="58.9" fill="#1f8a2b"/>
<rect x="1053.2" y="692.4" width="3.8" height="53.4" fill="#fff8f8" stroke="#c65462" stroke-width="1"/>
<rect x="1059.8" y="692.4" width="3.8" height="53.4" fill="#fff8f8" stroke="#c65462" stroke-width="1"/>
<rect x="1066.4" y="695.4" width="3.8" height="50.4" fill="#fff8f8" stroke="#c65462" stroke-width="1"/>
<rect x="1072.6" y="687.6" width="4.6" height="58.2" fill="#1f8a2b"/>
<rect x="1079.6" y="697.4" width="3.8" height="48.4" fill="#fff8f8" stroke="#c65462" stroke-width="1"/>
<rect x="1085.8" y="697.4" width="4.6" height="48.4" fill="#1f8a2b"/>
<rect x="1092.8" y="702.3" width="3.8" height="43.5" fill="#fff8f8" stroke="#c65462" stroke-width="1"/>
<rect x="1099.4" y="694.2" width="3.8" height="51.6" fill="#fff8f8" stroke="#c65462" stroke-width="1"/>
<rect x="1106.0" y="698.3" width="3.8" height="47.5" fill="#fff8f8" stroke="#c65462" stroke-width="1"/>
<rect x="1112.2" y="693.9" width="4.6" height="51.9" fill="#1f8a2b"/>
<rect x="1118.9" y="688.0" width="4.6" height="57.8" fill="#1f8a2b"/>
<rect x="1125.5" y="692.4" width="4.6" height="53.4" fill="#1f8a2b"/>
<rect x="1132.1" y="701.2" width="4.6" height="44.6" fill="#1f8a2b"/>
<rect x="1139.1" y="703.0" width="3.8" height="42.8" fill="#fff8f8" stroke="#c65462" stroke-width="1"/>
<rect x="1145.7" y="697.1" width="3.8" height="48.7" fill="#fff8f8" stroke="#c65462" stroke-width="1"/>
<rect x="1151.9" y="706.2" width="4.6" height="39.6" fill="#1f8a2b"/>
<rect x="1158.5" y="704.2" width="4.6" height="41.6" fill="#1f8a2b"/>
<rect x="1165.5" y="706.6" width="3.8" height="39.2" fill="#fff8f8" stroke="#c65462" stroke-width="1"/>
<rect x="1172.1" y="697.4" width="3.8" height="48.4" fill="#fff8f8" stroke="#c65462" stroke-width="1"/>
<polyline points="4.4,706.6 11.0,707.6 17.6,707.0 24.2,705.8 30.8,705.2 37.4,704.6 44.0,704.6 50.7,705.2 57.3,705.4 63.9,705.5 70.5,704.5 77.1,704.0 83.7,705.2 90.3,706.6 96.9,707.2 103.5,707.5 110.1,707.9 116.7,707.5 123.3,707.4 130.0,708.2 136.6,709.0 143.2,709.2 149.8,709.6 156.4,710.3 163.0,711.4 169.6,712.0 176.2,712.3 182.8,713.0 189.4,713.0 196.0,713.0 202.6,713.1 209.2,713.5 215.9,713.5 222.5,712.9 229.1,712.8 235.7,713.6 242.3,714.3 248.9,714.4 255.5,715.5 262.1,715.6 268.7,716.1 275.3,716.0 281.9,716.3 288.5,716.7 295.2,716.8 301.8,716.6 308.4,716.7 315.0,716.9 321.6,716.7 328.2,717.1 334.8,716.6 341.4,716.4 348.0,715.7 354.6,715.9 361.2,716.2 367.8,716.5 374.4,716.1 381.1,716.1 387.7,715.9 394.3,715.9 400.9,716.1 407.5,716.1 414.1,716.6 420.7,716.8 427.3,716.8 433.9,716.7 440.5,715.3 447.1,714.5 453.7,714.2 460.4,713.3 467.0,713.3 473.6,713.7 480.2,713.6 486.8,713.5 493.4,713.7 500.0,714.1 506.6,716.1 513.2,716.9 519.8,717.5 526.4,718.5 533.0,718.8 539.6,719.2 546.3,719.5 552.9,720.1 559.5,720.3 566.1,720.3 572.7,720.2 579.3,720.2 585.9,718.9 592.5,718.0 599.1,717.9 605.7,717.6 612.3,717.7 618.9,717.4 625.6,717.1 632.2,716.7 638.8,716.6 645.4,717.0 652.0,718.5 658.6,719.5 665.2,719.1 671.8,718.9 678.4,718.7 685.0,716.5 691.6,713.2 698.2,710.0 704.8,707.4 711.5,698.5 718.1,687.6 724.7,679.9 731.3,674.5 737.9,671.2 744.5,667.4 751.1,666.4 757.7,667.0 764.3,667.4 770.9,665.4 777.5,669.9 784.1,677.3 790.8,680.8 797.4,684.0 804.0,684.2 810.6,683.8 817.2,682.1 823.8,680.5 830.4,678.0 837.0,676.3 843.6,676.3 850.2,673.9 856.8,671.3 863.4,666.8 870.0,662.9 876.7,661.4 883.3,660.5 889.9,660.5 896.5,662.0 903.1,664.3 909.7,663.5 916.3,665.4 922.9,668.9 929.5,673.2 936.1,676.6 942.7,679.4 949.3,683.0 956.0,684.6 962.6,685.9 969.2,686.5 975.8,687.2 982.4,686.9 989.0,686.4 995.6,686.3 1002.2,685.6 1008.8,684.0 1015.4,680.6 1022.0,678.9 1028.6,677.0 1035.2,674.9 1041.9,675.4 1048.5,676.4 1055.1,677.5 1061.7,677.8 1068.3,680.0 1074.9,681.3 1081.5,684.7 1088.1,687.0 1094.7,689.9 1101.3,692.8 1107.9,694.4 1114.5,695.1 1121.2,694.7 1127.8,694.7 1134.4,695.3 1141.0,696.8 1147.6,696.8 1154.2,697.7 1160.8,697.9 1167.4,699.1 1174.0,699.0" fill="none" stroke="#3c4260" stroke-width="1"/>
<polyline points="4.4,707.5 11.0,709.4 17.6,708.3 24.2,705.8 30.8,704.6 37.4,701.7 44.0,699.9 50.7,702.1 57.3,705.1 63.9,706.3 70.5,707.4 77.1,708.2 83.7,708.3 90.3,708.1 96.9,708.2 103.5,707.6 110.1,707.5 116.7,706.6 123.3,706.7 130.0,708.3 136.6,710.3 143.2,711.0 149.8,712.5 156.4,713.9 163.0,714.5 169.6,713.7 176.2,713.6 182.8,713.5 189.4,712.1 196.0,711.4 202.6,712.4 209.2,713.3 215.9,713.4 222.5,713.8 229.1,714.1 235.7,714.9 242.3,715.2 248.9,715.3 255.5,717.3 262.1,717.2 268.7,717.2 275.3,716.8 281.9,717.3 288.5,716.2 295.2,716.3 301.8,716.0 308.4,716.6 315.0,716.4 321.6,717.3 328.2,717.8 334.8,717.3 341.4,716.1 348.0,715.0 354.6,714.5 361.2,714.5 367.8,715.7 374.4,716.1 381.1,717.3 387.7,717.4 394.3,717.2 400.9,716.5 407.5,716.1 414.1,715.9 420.7,716.2 427.3,716.4 433.9,716.8 440.5,714.6 447.1,713.1 453.7,712.2 460.4,710.2 467.0,709.7 473.6,712.8 480.2,714.2 486.8,714.8 493.4,717.1 500.0,718.5 506.6,719.4 513.2,719.7 519.8,720.1 526.4,719.9 533.0,719.2 539.6,719.0 546.3,719.4 552.9,720.2 559.5,720.7 566.1,721.5 572.7,721.5 579.3,721.0 585.9,717.6 592.5,715.3 599.1,714.3 605.7,713.6 612.3,714.4 618.9,717.2 625.6,719.0 632.2,719.2 638.8,719.6 645.4,719.5 652.0,719.9 658.6,720.1 665.2,719.1 671.8,718.2 678.4,717.9 685.0,713.0 691.6,706.4 698.2,701.0 704.8,696.6 711.5,679.1 718.1,662.1 724.7,653.4 731.3,648.1 737.9,645.9 744.5,655.6 751.1,670.7 757.7,680.5 764.3,686.7 770.9,684.9 777.5,684.1 784.1,683.9 790.8,681.1 797.4,681.3 804.0,683.4 810.6,683.5 817.2,680.4 823.8,679.9 830.4,674.6 837.0,669.1 843.6,669.2 850.2,667.4 856.8,662.6 863.4,659.0 870.0,656.8 876.7,653.7 883.3,653.6 889.9,658.3 896.5,665.0 903.1,671.8 909.7,673.3 916.3,677.3 922.9,679.4 929.5,681.4 936.1,681.4 942.7,685.5 949.3,688.8 956.0,689.9 962.6,690.4 969.2,691.7 975.8,689.0 982.4,685.0 989.0,682.8 995.6,682.3 1002.2,679.6 1008.8,679.1 1015.4,676.3 1022.0,675.0 1028.6,671.8 1035.2,670.2 1041.9,671.7 1048.5,676.4 1055.1,679.9 1061.7,683.7 1068.3,689.7 1074.9,690.9 1081.5,693.0 1088.1,694.0 1094.7,696.0 1101.3,695.8 1107.9,697.9 1114.5,697.2 1121.2,695.3 1127.8,693.4 1134.4,694.8 1141.0,695.7 1147.6,696.3 1154.2,700.0 1160.8,702.3 1167.4,703.4 1174.0,702.3" fill="none" stroke="#d4a060" stroke-width="1"/>
</svg>
<div class="t serif" style="left:0.5px;top:35px;font-size:18.5px;color:#5e5e6a">日线</div>
<div class="t serif" style="left:50px;top:35px;font-size:18.5px;color:#808090">上证指数</div>
<div class="t" style="left:130px;top:35px;font-size:18.2px;color:#343950">MA5: 3202.36</div>
<div class="t" style="left:250px;top:35px;font-size:18.2px;color:#b8a468">MA10: 3227.41</div>
<div class="t" style="left:378px;top:35px;font-size:18.2px;color:#c04a88">MA20: 3304.98</div>
<div class="t" style="left:509px;top:35px;font-size:18.2px;color:#4fa458">MA30: 3337.11</div>
<div class="t" style="left:638px;top:35px;font-size:18.2px;color:#2e2e36">MA60: 3337.49</div>
<div class="t" style="left:925px;top:67.7px;font-size:20.5px;color:#2a2a30">20240424-20250114 (178)</div>
<div style="position:absolute;left:925px;top:86px;width:240px;height:2px;background:#2a2a30"></div>
<svg style="position:absolute;left:1168px;top:69px" width="18" height="20" viewBox="0 0 18 20"><path d="M14,8 V5.6 C14,1.2 6.2,0.6 4.6,4.8" fill="none" stroke="#5e5e6a" stroke-width="1.6"/><rect x="2.3" y="8.4" width="13.4" height="9.6" rx="1.4" fill="#fff" stroke="#5e5e6a" stroke-width="1.6"/><rect x="8.3" y="11.2" width="1.9" height="3.4" rx="0.9" fill="#5e5e6a"/></svg>
<div class="t" style="left:737.5px;top:101.5px;font-size:19px;color:#383b4c">3674.40</div>
<div class="t" style="left:678.5px;top:547.5px;font-size:19px;color:#383b4c">2689.70</div>
<div class="ax" style="top:50.5px">3729</div>
<div class="ax" style="top:149px">3575</div>
<div class="ax" style="top:220px">3418</div>
<div class="ax" style="top:291px">3261</div>
<div class="ax" style="top:361.7px">3105</div>
<div class="ax" style="top:432.5px">2948</div>
<div class="ax" style="top:503.5px">2792</div>
<div class="t serif" style="left:1px;top:587px;font-size:18.5px;color:#c46a6a">总手:</div>
<div class="t" style="left:47px;top:588px;font-size:18.4px;color:#c0404a">469212700</div>
<div class="t" style="left:147px;top:588px;font-size:18.4px;color:#cc9450">MAVOL5: 420285204</div>
<div class="t" style="left:330px;top:588px;font-size:18.4px;color:#343950">MAVOL10: 4.52亿</div>
<div style="position:absolute;left:1063.5px;top:582.5px;width:130px;height:28px;border:1.5px solid #d6d6e4;background:#fff"></div>
<div class="t serif" style="left:1101px;top:589px;font-size:17px;color:#707080">成交量</div>
<svg style="position:absolute;left:1178.5px;top:593.5px" width="9" height="8"><path d="M0,0.5 H8.5 L4.25,7Z" fill="#6a6a88"/></svg>
<div class="vax" style="top:603px">1313</div>
<div class="vax" style="top:648px">882</div>
<div class="vax" style="top:693.5px">441</div>
<div style="position:absolute;left:1195px;top:725px;width:46px;height:21px;background:#fff;border:1px solid #eeeef4"></div>
<div class="vax" style="top:728px;left:1196px">X100</div>
</body></html>
